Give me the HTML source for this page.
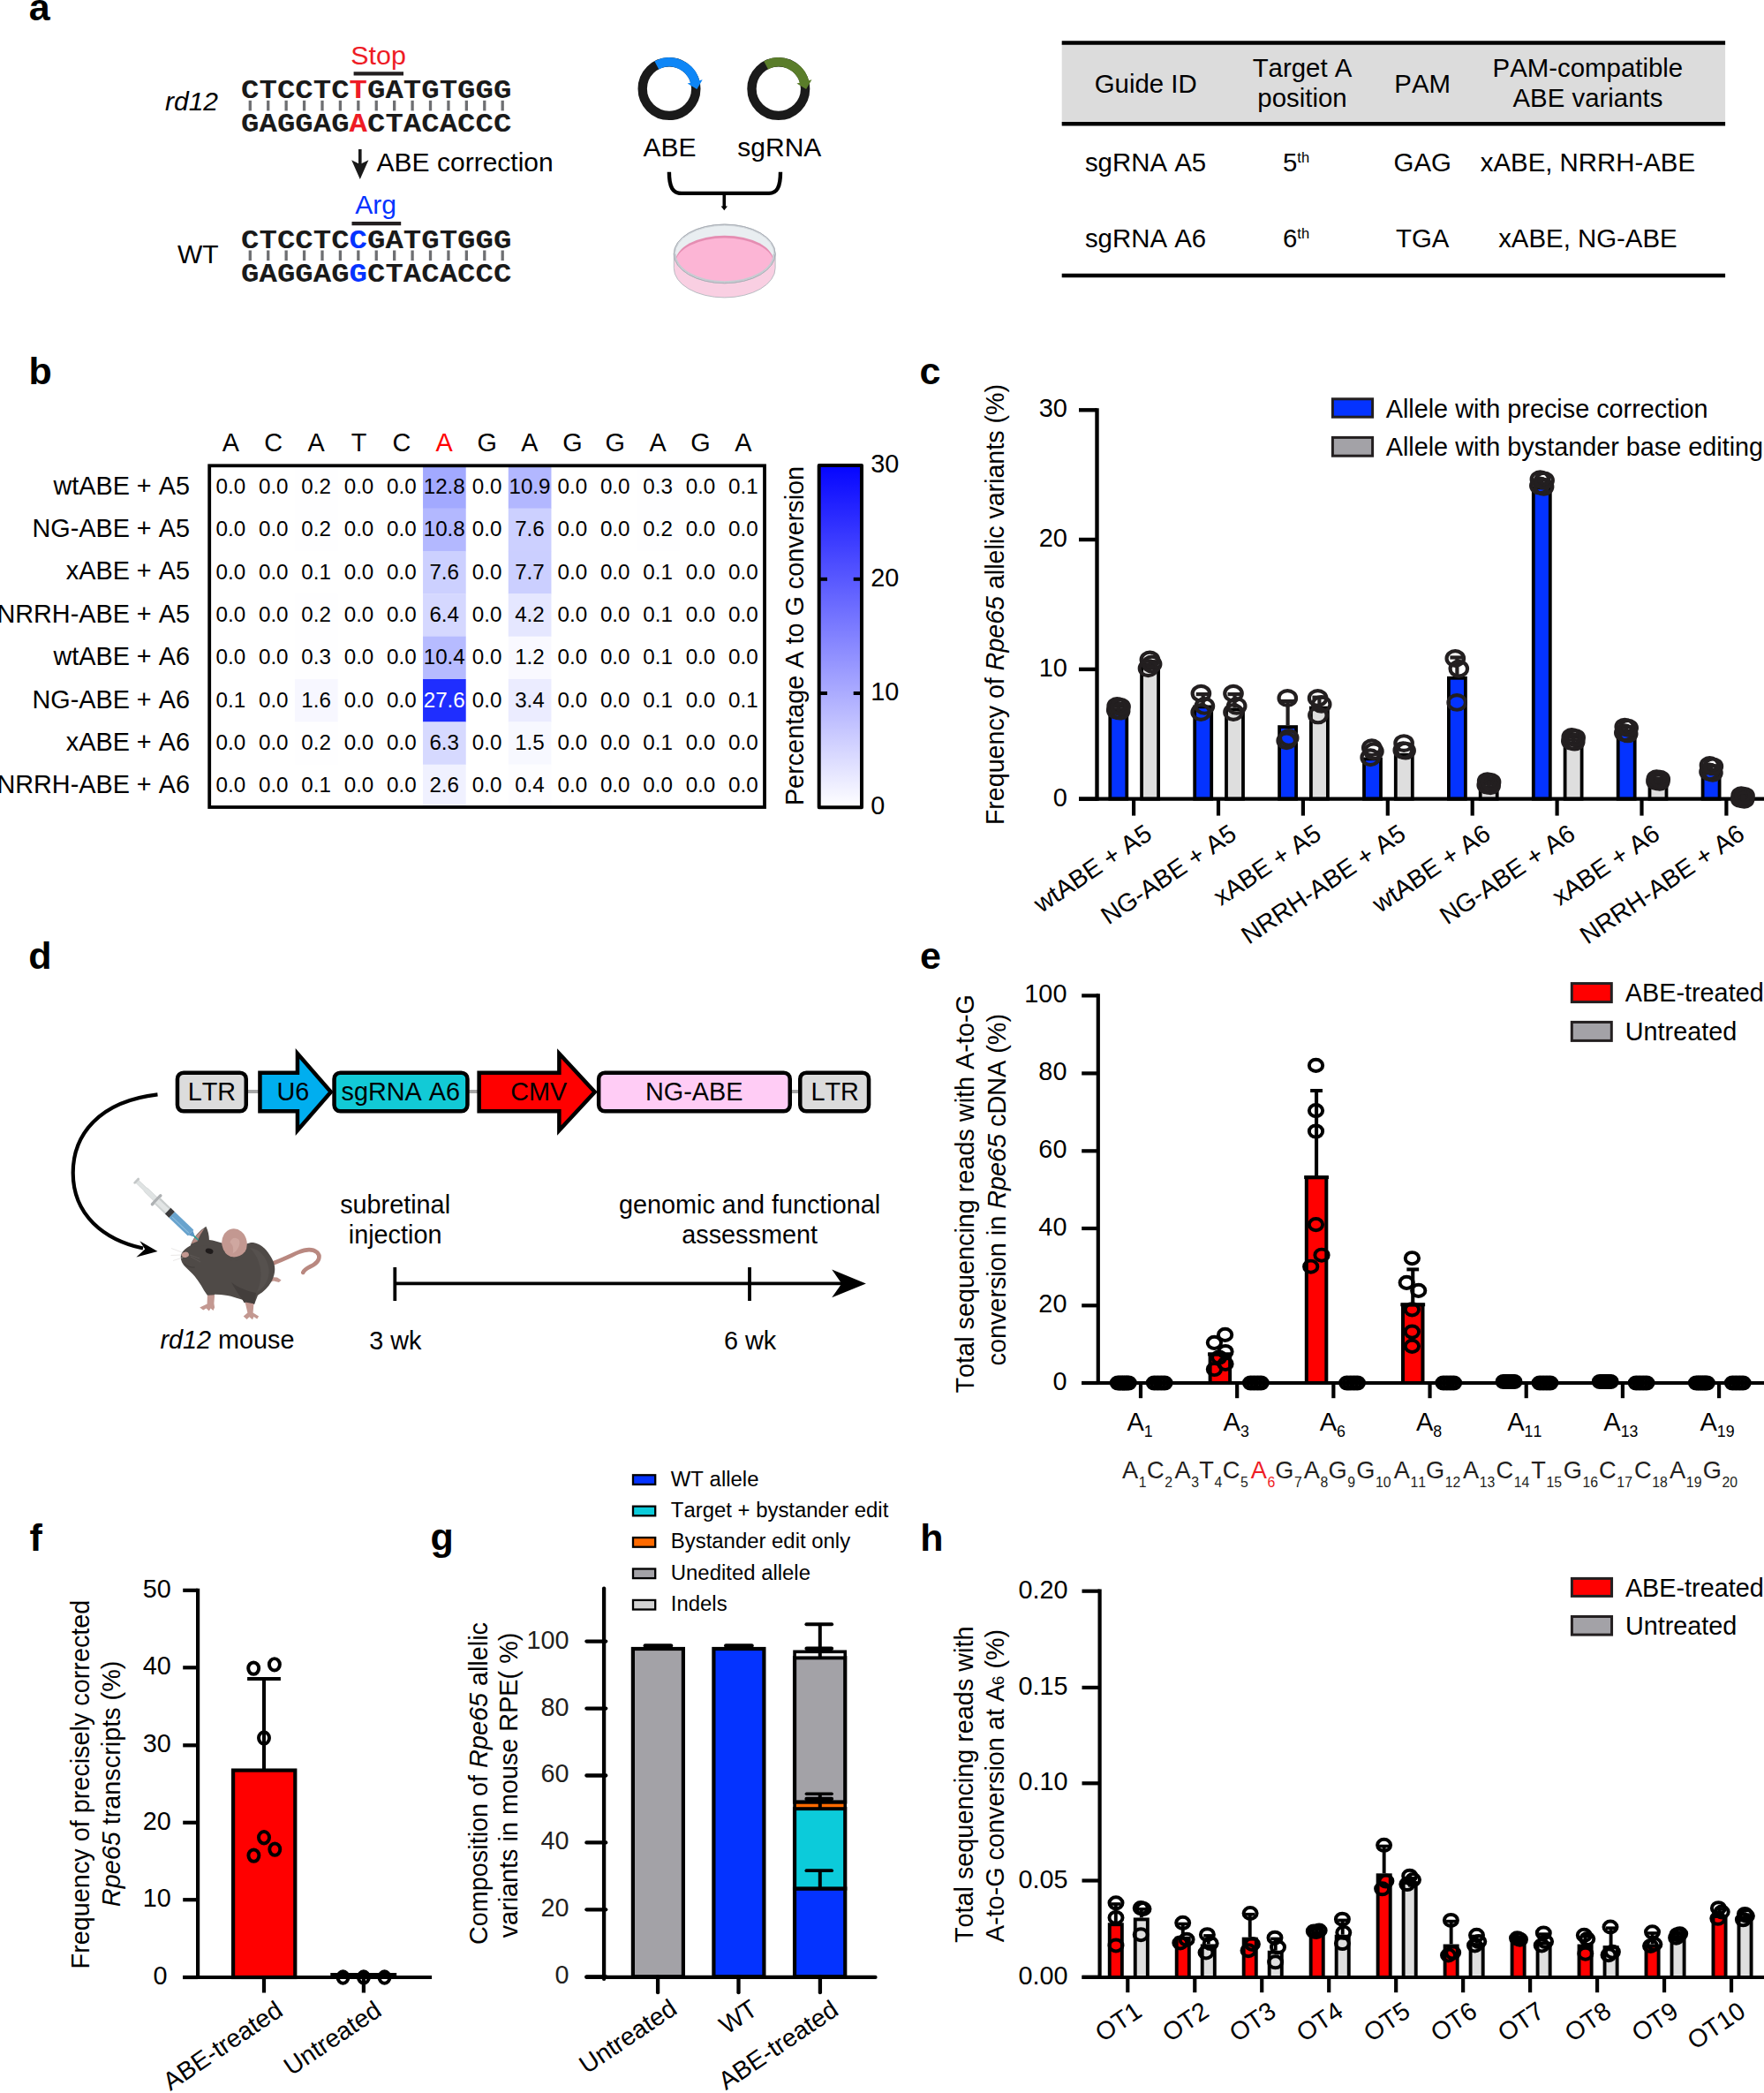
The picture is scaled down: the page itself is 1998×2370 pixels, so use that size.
<!DOCTYPE html>
<html><head><meta charset="utf-8"><title>Figure</title>
<style>html,body{margin:0;padding:0;background:#fff;overflow:hidden}svg{display:block}text{font-family:"Liberation Sans",sans-serif;font-kerning:none}text.mono{font-family:"Liberation Mono",monospace}</style>
</head><body>
<svg width="1998" height="2370" viewBox="0 0 1998 2370">
<text transform="translate(32.70,23.20)" font-size="43" font-weight="bold">a</text>
<text transform="translate(187.00,124.60)" font-size="30" font-style="italic">rd12</text>
<text transform="translate(201.00,297.50)" font-size="30">WT</text>
<line x1="283.31" y1="113.80" x2="283.31" y2="125.40" stroke="#6e6f72" stroke-width="3.3"/>
<line x1="303.73" y1="113.80" x2="303.73" y2="125.40" stroke="#6e6f72" stroke-width="3.3"/>
<line x1="324.15" y1="113.80" x2="324.15" y2="125.40" stroke="#6e6f72" stroke-width="3.3"/>
<line x1="344.57" y1="113.80" x2="344.57" y2="125.40" stroke="#6e6f72" stroke-width="3.3"/>
<line x1="364.99" y1="113.80" x2="364.99" y2="125.40" stroke="#6e6f72" stroke-width="3.3"/>
<line x1="385.41" y1="113.80" x2="385.41" y2="125.40" stroke="#6e6f72" stroke-width="3.3"/>
<line x1="405.83" y1="113.80" x2="405.83" y2="125.40" stroke="#6e6f72" stroke-width="3.3"/>
<line x1="426.25" y1="113.80" x2="426.25" y2="125.40" stroke="#6e6f72" stroke-width="3.3"/>
<line x1="446.67" y1="113.80" x2="446.67" y2="125.40" stroke="#6e6f72" stroke-width="3.3"/>
<line x1="467.09" y1="113.80" x2="467.09" y2="125.40" stroke="#6e6f72" stroke-width="3.3"/>
<line x1="487.51" y1="113.80" x2="487.51" y2="125.40" stroke="#6e6f72" stroke-width="3.3"/>
<line x1="507.93" y1="113.80" x2="507.93" y2="125.40" stroke="#6e6f72" stroke-width="3.3"/>
<line x1="528.35" y1="113.80" x2="528.35" y2="125.40" stroke="#6e6f72" stroke-width="3.3"/>
<line x1="548.77" y1="113.80" x2="548.77" y2="125.40" stroke="#6e6f72" stroke-width="3.3"/>
<line x1="569.19" y1="113.80" x2="569.19" y2="125.40" stroke="#6e6f72" stroke-width="3.3"/>
<text transform="translate(273.10,110.90) scale(1.0,0.88)" font-size="34.03" fill="#1a1a1a" font-weight="bold" class="mono">CTCCTC<tspan fill="#ee1c25">T</tspan>GATGTGGG</text>
<text transform="translate(273.10,148.80) scale(1.0,0.88)" font-size="34.03" fill="#1a1a1a" font-weight="bold" class="mono">GAGGAG<tspan fill="#ee1c25">A</tspan>CTACACCC</text>
<line x1="283.31" y1="283.50" x2="283.31" y2="295.10" stroke="#6e6f72" stroke-width="3.3"/>
<line x1="303.73" y1="283.50" x2="303.73" y2="295.10" stroke="#6e6f72" stroke-width="3.3"/>
<line x1="324.15" y1="283.50" x2="324.15" y2="295.10" stroke="#6e6f72" stroke-width="3.3"/>
<line x1="344.57" y1="283.50" x2="344.57" y2="295.10" stroke="#6e6f72" stroke-width="3.3"/>
<line x1="364.99" y1="283.50" x2="364.99" y2="295.10" stroke="#6e6f72" stroke-width="3.3"/>
<line x1="385.41" y1="283.50" x2="385.41" y2="295.10" stroke="#6e6f72" stroke-width="3.3"/>
<line x1="405.83" y1="283.50" x2="405.83" y2="295.10" stroke="#6e6f72" stroke-width="3.3"/>
<line x1="426.25" y1="283.50" x2="426.25" y2="295.10" stroke="#6e6f72" stroke-width="3.3"/>
<line x1="446.67" y1="283.50" x2="446.67" y2="295.10" stroke="#6e6f72" stroke-width="3.3"/>
<line x1="467.09" y1="283.50" x2="467.09" y2="295.10" stroke="#6e6f72" stroke-width="3.3"/>
<line x1="487.51" y1="283.50" x2="487.51" y2="295.10" stroke="#6e6f72" stroke-width="3.3"/>
<line x1="507.93" y1="283.50" x2="507.93" y2="295.10" stroke="#6e6f72" stroke-width="3.3"/>
<line x1="528.35" y1="283.50" x2="528.35" y2="295.10" stroke="#6e6f72" stroke-width="3.3"/>
<line x1="548.77" y1="283.50" x2="548.77" y2="295.10" stroke="#6e6f72" stroke-width="3.3"/>
<line x1="569.19" y1="283.50" x2="569.19" y2="295.10" stroke="#6e6f72" stroke-width="3.3"/>
<text transform="translate(273.10,280.60) scale(1.0,0.88)" font-size="34.03" fill="#1a1a1a" font-weight="bold" class="mono">CTCCTC<tspan fill="#0433ff">C</tspan>GATGTGGG</text>
<text transform="translate(273.10,318.50) scale(1.0,0.88)" font-size="34.03" fill="#1a1a1a" font-weight="bold" class="mono">GAGGAG<tspan fill="#0433ff">G</tspan>CTACACCC</text>
<text transform="translate(428.60,73.30)" font-size="30.4" text-anchor="middle" fill="#ee1c25">Stop</text>
<line x1="400.60" y1="83.30" x2="457.00" y2="83.30" stroke="#231f20" stroke-width="4.2"/>
<text transform="translate(425.50,242.40)" font-size="30" text-anchor="middle" fill="#0433ff">Arg</text>
<line x1="398.50" y1="253.20" x2="454.20" y2="253.20" stroke="#231f20" stroke-width="4.2"/>
<line x1="407.80" y1="169.00" x2="407.80" y2="190.00" stroke="#1a1a1a" stroke-width="3.6"/>
<path d="M398.2,181.3 L407.8,186 L417.4,181.3 L407.8,203 Z" fill="#1a1a1a"/>
<text transform="translate(426.60,194.20)" font-size="30">ABE correction</text>
<circle cx="758" cy="100.6" r="30.3" fill="none" stroke="#1a1a1a" stroke-width="10.4"/>
<path d="M743.78,73.85 A30.3,30.3 0 0 1 787.40,93.27" fill="none" stroke="#0e86f6" stroke-width="10.4"/>
<path d="M778.62,94.43 L795.70,90.17 L789.34,101.03 Z" fill="#0e86f6"/>
<circle cx="881.8" cy="100.6" r="30.3" fill="none" stroke="#1a1a1a" stroke-width="10.4"/>
<path d="M867.58,73.85 A30.3,30.3 0 0 1 911.20,93.27" fill="none" stroke="#5a7d2a" stroke-width="10.4"/>
<path d="M902.42,94.43 L919.50,90.17 L913.14,101.03 Z" fill="#5a7d2a"/>
<text transform="translate(758.60,177.40)" font-size="30" text-anchor="middle">ABE</text>
<text transform="translate(882.80,177.40)" font-size="30" text-anchor="middle">sgRNA</text>
<path d="M757.9,194.8 C757.9,212 762,218.9 772,218.9 L871,218.9 C880,218.9 884,212 884,194.8" fill="none" stroke="#000" stroke-width="4.4"/>
<line x1="820.30" y1="218.90" x2="820.30" y2="234.50" stroke="#000" stroke-width="3.6"/>
<path d="M816.6,233.5 L824,233.5 L820.3,238.3 Z" fill="#000"/>
<path d="M763.3000000000001,287.4 L763.3000000000001,303.6 A57.4,33.3 0 0 0 878.1,303.6 L878.1,287.4 Z" fill="#f9cfe2" stroke="#b9bcc2" stroke-width="1"/>
<ellipse cx="820.7" cy="287.4" rx="57.4" ry="33.3" fill="#e9eef1" stroke="#b3b8be" stroke-width="1"/>
<clipPath id="dishc"><ellipse cx="820.7" cy="287.4" rx="55.6" ry="31.6"/></clipPath>
<g clip-path="url(#dishc)"><ellipse cx="820.7" cy="296.3" rx="55.6" ry="29.6" fill="#e58db2"/><ellipse cx="820.7" cy="298.2" rx="55.6" ry="28.6" fill="#fcb5d5"/></g>
<path d="M765.1,287.4 A55.6,31.6 0 0 0 876.3000000000001,287.4" fill="none" stroke="#c9ccd3" stroke-width="1.6"/>
<ellipse cx="820.7" cy="287.4" rx="56.2" ry="32.2" fill="none" stroke="#c3c8ce" stroke-width="0.7"/>
<ellipse cx="820.7" cy="287.4" rx="57.4" ry="33.3" fill="none" stroke="#a9aeb5" stroke-width="0.9"/>
<rect x="1202.70" y="48.50" width="751.40" height="91.80" fill="#dcdcdc"/>
<line x1="1202.70" y1="48.50" x2="1954.10" y2="48.50" stroke="#000" stroke-width="4.6"/>
<line x1="1202.70" y1="140.30" x2="1954.10" y2="140.30" stroke="#000" stroke-width="4.6"/>
<line x1="1202.70" y1="312.00" x2="1954.10" y2="312.00" stroke="#000" stroke-width="4.6"/>
<text transform="translate(1297.70,105.20)" font-size="29.4" text-anchor="middle">Guide ID</text>
<text transform="translate(1475.00,87.10)" font-size="29.4" text-anchor="middle">Target A</text>
<text transform="translate(1475.00,121.40)" font-size="29.4" text-anchor="middle">position</text>
<text transform="translate(1611.20,105.20)" font-size="29.4" text-anchor="middle">PAM</text>
<text transform="translate(1798.40,87.10)" font-size="29.4" text-anchor="middle">PAM-compatible</text>
<text transform="translate(1798.40,121.40)" font-size="29.4" text-anchor="middle">ABE variants</text>
<text transform="translate(1297.50,193.80)" font-size="29.4" text-anchor="middle">sgRNA A5</text>
<text transform="translate(1453.00,193.80)" font-size="29.4">5<tspan font-size="16.5" dy="-9.4">th</tspan></text>
<text transform="translate(1611.20,193.80)" font-size="29.4" text-anchor="middle">GAG</text>
<text transform="translate(1798.40,193.80)" font-size="29.4" text-anchor="middle">xABE, NRRH-ABE</text>
<text transform="translate(1297.50,279.80)" font-size="29.4" text-anchor="middle">sgRNA A6</text>
<text transform="translate(1453.00,279.80)" font-size="29.4">6<tspan font-size="16.5" dy="-9.4">th</tspan></text>
<text transform="translate(1611.20,279.80)" font-size="29.4" text-anchor="middle">TGA</text>
<text transform="translate(1798.40,279.80)" font-size="29.4" text-anchor="middle">xABE, NG-ABE</text>
<text transform="translate(32.50,434.90)" font-size="43" font-weight="bold">b</text>
<text transform="translate(261.38,511.10)" font-size="28.8" text-anchor="middle">A</text>
<text transform="translate(309.75,511.10)" font-size="28.8" text-anchor="middle">C</text>
<text transform="translate(358.12,511.10)" font-size="28.8" text-anchor="middle">A</text>
<text transform="translate(406.50,511.10)" font-size="28.8" text-anchor="middle">T</text>
<text transform="translate(454.87,511.10)" font-size="28.8" text-anchor="middle">C</text>
<text transform="translate(503.23,511.10)" font-size="28.8" text-anchor="middle" fill="#f00">A</text>
<text transform="translate(551.61,511.10)" font-size="28.8" text-anchor="middle">G</text>
<text transform="translate(599.97,511.10)" font-size="28.8" text-anchor="middle">A</text>
<text transform="translate(648.35,511.10)" font-size="28.8" text-anchor="middle">G</text>
<text transform="translate(696.71,511.10)" font-size="28.8" text-anchor="middle">G</text>
<text transform="translate(745.09,511.10)" font-size="28.8" text-anchor="middle">A</text>
<text transform="translate(793.45,511.10)" font-size="28.8" text-anchor="middle">G</text>
<text transform="translate(841.83,511.10)" font-size="28.8" text-anchor="middle">A</text>
<text transform="translate(214.90,559.80)" font-size="28.8" text-anchor="end">wtABE + A5</text>
<rect x="333.94" y="527.30" width="48.67" height="48.64" fill="#fefeff"/>
<rect x="479.05" y="527.30" width="48.67" height="48.64" fill="#a2a9ff"/>
<rect x="575.79" y="527.30" width="48.67" height="48.64" fill="#b2b7ff"/>
<rect x="720.90" y="527.30" width="48.67" height="48.64" fill="#fefeff"/>
<rect x="817.64" y="527.30" width="48.67" height="48.64" fill="#ffffff"/>
<text transform="translate(214.90,608.14)" font-size="28.8" text-anchor="end">NG-ABE + A5</text>
<rect x="333.94" y="575.64" width="48.67" height="48.64" fill="#fefeff"/>
<rect x="479.05" y="575.64" width="48.67" height="48.64" fill="#b3b8ff"/>
<rect x="575.79" y="575.64" width="48.67" height="48.64" fill="#ccd0ff"/>
<rect x="720.90" y="575.64" width="48.67" height="48.64" fill="#fefeff"/>
<text transform="translate(214.90,656.48)" font-size="28.8" text-anchor="end">xABE + A5</text>
<rect x="333.94" y="623.98" width="48.67" height="48.64" fill="#ffffff"/>
<rect x="479.05" y="623.98" width="48.67" height="48.64" fill="#ccd0ff"/>
<rect x="575.79" y="623.98" width="48.67" height="48.64" fill="#cbcfff"/>
<rect x="720.90" y="623.98" width="48.67" height="48.64" fill="#ffffff"/>
<text transform="translate(214.90,704.82)" font-size="28.8" text-anchor="end">NRRH-ABE + A5</text>
<rect x="333.94" y="672.32" width="48.67" height="48.64" fill="#fefeff"/>
<rect x="479.05" y="672.32" width="48.67" height="48.64" fill="#d5d8ff"/>
<rect x="575.79" y="672.32" width="48.67" height="48.64" fill="#e5e7ff"/>
<rect x="720.90" y="672.32" width="48.67" height="48.64" fill="#ffffff"/>
<text transform="translate(214.90,753.16)" font-size="28.8" text-anchor="end">wtABE + A6</text>
<rect x="333.94" y="720.66" width="48.67" height="48.64" fill="#fefeff"/>
<rect x="479.05" y="720.66" width="48.67" height="48.64" fill="#b6bbff"/>
<rect x="575.79" y="720.66" width="48.67" height="48.64" fill="#f9f9ff"/>
<rect x="720.90" y="720.66" width="48.67" height="48.64" fill="#ffffff"/>
<text transform="translate(214.90,801.50)" font-size="28.8" text-anchor="end">NG-ABE + A6</text>
<rect x="237.20" y="769.00" width="48.67" height="48.64" fill="#ffffff"/>
<rect x="333.94" y="769.00" width="48.67" height="48.64" fill="#f7f7ff"/>
<rect x="479.05" y="769.00" width="48.67" height="48.64" fill="#1f2eff"/>
<rect x="575.79" y="769.00" width="48.67" height="48.64" fill="#ebecff"/>
<rect x="720.90" y="769.00" width="48.67" height="48.64" fill="#ffffff"/>
<rect x="817.64" y="769.00" width="48.67" height="48.64" fill="#ffffff"/>
<text transform="translate(214.90,849.84)" font-size="28.8" text-anchor="end">xABE + A6</text>
<rect x="333.94" y="817.34" width="48.67" height="48.64" fill="#fefeff"/>
<rect x="479.05" y="817.34" width="48.67" height="48.64" fill="#d6d9ff"/>
<rect x="575.79" y="817.34" width="48.67" height="48.64" fill="#f7f8ff"/>
<rect x="720.90" y="817.34" width="48.67" height="48.64" fill="#ffffff"/>
<text transform="translate(214.90,898.18)" font-size="28.8" text-anchor="end">NRRH-ABE + A6</text>
<rect x="333.94" y="865.68" width="48.67" height="48.64" fill="#ffffff"/>
<rect x="479.05" y="865.68" width="48.67" height="48.64" fill="#f0f1ff"/>
<rect x="575.79" y="865.68" width="48.67" height="48.64" fill="#fdfdff"/>
<text transform="translate(261.38,558.90)" font-size="24.2" text-anchor="middle">0.0</text>
<text transform="translate(309.75,558.90)" font-size="24.2" text-anchor="middle">0.0</text>
<text transform="translate(358.12,558.90)" font-size="24.2" text-anchor="middle">0.2</text>
<text transform="translate(406.50,558.90)" font-size="24.2" text-anchor="middle">0.0</text>
<text transform="translate(454.87,558.90)" font-size="24.2" text-anchor="middle">0.0</text>
<text transform="translate(503.23,558.90)" font-size="24.2" text-anchor="middle">12.8</text>
<text transform="translate(551.61,558.90)" font-size="24.2" text-anchor="middle">0.0</text>
<text transform="translate(599.97,558.90)" font-size="24.2" text-anchor="middle">10.9</text>
<text transform="translate(648.35,558.90)" font-size="24.2" text-anchor="middle">0.0</text>
<text transform="translate(696.71,558.90)" font-size="24.2" text-anchor="middle">0.0</text>
<text transform="translate(745.09,558.90)" font-size="24.2" text-anchor="middle">0.3</text>
<text transform="translate(793.45,558.90)" font-size="24.2" text-anchor="middle">0.0</text>
<text transform="translate(841.83,558.90)" font-size="24.2" text-anchor="middle">0.1</text>
<text transform="translate(261.38,607.24)" font-size="24.2" text-anchor="middle">0.0</text>
<text transform="translate(309.75,607.24)" font-size="24.2" text-anchor="middle">0.0</text>
<text transform="translate(358.12,607.24)" font-size="24.2" text-anchor="middle">0.2</text>
<text transform="translate(406.50,607.24)" font-size="24.2" text-anchor="middle">0.0</text>
<text transform="translate(454.87,607.24)" font-size="24.2" text-anchor="middle">0.0</text>
<text transform="translate(503.23,607.24)" font-size="24.2" text-anchor="middle">10.8</text>
<text transform="translate(551.61,607.24)" font-size="24.2" text-anchor="middle">0.0</text>
<text transform="translate(599.97,607.24)" font-size="24.2" text-anchor="middle">7.6</text>
<text transform="translate(648.35,607.24)" font-size="24.2" text-anchor="middle">0.0</text>
<text transform="translate(696.71,607.24)" font-size="24.2" text-anchor="middle">0.0</text>
<text transform="translate(745.09,607.24)" font-size="24.2" text-anchor="middle">0.2</text>
<text transform="translate(793.45,607.24)" font-size="24.2" text-anchor="middle">0.0</text>
<text transform="translate(841.83,607.24)" font-size="24.2" text-anchor="middle">0.0</text>
<text transform="translate(261.38,655.58)" font-size="24.2" text-anchor="middle">0.0</text>
<text transform="translate(309.75,655.58)" font-size="24.2" text-anchor="middle">0.0</text>
<text transform="translate(358.12,655.58)" font-size="24.2" text-anchor="middle">0.1</text>
<text transform="translate(406.50,655.58)" font-size="24.2" text-anchor="middle">0.0</text>
<text transform="translate(454.87,655.58)" font-size="24.2" text-anchor="middle">0.0</text>
<text transform="translate(503.23,655.58)" font-size="24.2" text-anchor="middle">7.6</text>
<text transform="translate(551.61,655.58)" font-size="24.2" text-anchor="middle">0.0</text>
<text transform="translate(599.97,655.58)" font-size="24.2" text-anchor="middle">7.7</text>
<text transform="translate(648.35,655.58)" font-size="24.2" text-anchor="middle">0.0</text>
<text transform="translate(696.71,655.58)" font-size="24.2" text-anchor="middle">0.0</text>
<text transform="translate(745.09,655.58)" font-size="24.2" text-anchor="middle">0.1</text>
<text transform="translate(793.45,655.58)" font-size="24.2" text-anchor="middle">0.0</text>
<text transform="translate(841.83,655.58)" font-size="24.2" text-anchor="middle">0.0</text>
<text transform="translate(261.38,703.92)" font-size="24.2" text-anchor="middle">0.0</text>
<text transform="translate(309.75,703.92)" font-size="24.2" text-anchor="middle">0.0</text>
<text transform="translate(358.12,703.92)" font-size="24.2" text-anchor="middle">0.2</text>
<text transform="translate(406.50,703.92)" font-size="24.2" text-anchor="middle">0.0</text>
<text transform="translate(454.87,703.92)" font-size="24.2" text-anchor="middle">0.0</text>
<text transform="translate(503.23,703.92)" font-size="24.2" text-anchor="middle">6.4</text>
<text transform="translate(551.61,703.92)" font-size="24.2" text-anchor="middle">0.0</text>
<text transform="translate(599.97,703.92)" font-size="24.2" text-anchor="middle">4.2</text>
<text transform="translate(648.35,703.92)" font-size="24.2" text-anchor="middle">0.0</text>
<text transform="translate(696.71,703.92)" font-size="24.2" text-anchor="middle">0.0</text>
<text transform="translate(745.09,703.92)" font-size="24.2" text-anchor="middle">0.1</text>
<text transform="translate(793.45,703.92)" font-size="24.2" text-anchor="middle">0.0</text>
<text transform="translate(841.83,703.92)" font-size="24.2" text-anchor="middle">0.0</text>
<text transform="translate(261.38,752.26)" font-size="24.2" text-anchor="middle">0.0</text>
<text transform="translate(309.75,752.26)" font-size="24.2" text-anchor="middle">0.0</text>
<text transform="translate(358.12,752.26)" font-size="24.2" text-anchor="middle">0.3</text>
<text transform="translate(406.50,752.26)" font-size="24.2" text-anchor="middle">0.0</text>
<text transform="translate(454.87,752.26)" font-size="24.2" text-anchor="middle">0.0</text>
<text transform="translate(503.23,752.26)" font-size="24.2" text-anchor="middle">10.4</text>
<text transform="translate(551.61,752.26)" font-size="24.2" text-anchor="middle">0.0</text>
<text transform="translate(599.97,752.26)" font-size="24.2" text-anchor="middle">1.2</text>
<text transform="translate(648.35,752.26)" font-size="24.2" text-anchor="middle">0.0</text>
<text transform="translate(696.71,752.26)" font-size="24.2" text-anchor="middle">0.0</text>
<text transform="translate(745.09,752.26)" font-size="24.2" text-anchor="middle">0.1</text>
<text transform="translate(793.45,752.26)" font-size="24.2" text-anchor="middle">0.0</text>
<text transform="translate(841.83,752.26)" font-size="24.2" text-anchor="middle">0.0</text>
<text transform="translate(261.38,800.60)" font-size="24.2" text-anchor="middle">0.1</text>
<text transform="translate(309.75,800.60)" font-size="24.2" text-anchor="middle">0.0</text>
<text transform="translate(358.12,800.60)" font-size="24.2" text-anchor="middle">1.6</text>
<text transform="translate(406.50,800.60)" font-size="24.2" text-anchor="middle">0.0</text>
<text transform="translate(454.87,800.60)" font-size="24.2" text-anchor="middle">0.0</text>
<text transform="translate(503.23,800.60)" font-size="24.2" text-anchor="middle" fill="#fff">27.6</text>
<text transform="translate(551.61,800.60)" font-size="24.2" text-anchor="middle">0.0</text>
<text transform="translate(599.97,800.60)" font-size="24.2" text-anchor="middle">3.4</text>
<text transform="translate(648.35,800.60)" font-size="24.2" text-anchor="middle">0.0</text>
<text transform="translate(696.71,800.60)" font-size="24.2" text-anchor="middle">0.0</text>
<text transform="translate(745.09,800.60)" font-size="24.2" text-anchor="middle">0.1</text>
<text transform="translate(793.45,800.60)" font-size="24.2" text-anchor="middle">0.0</text>
<text transform="translate(841.83,800.60)" font-size="24.2" text-anchor="middle">0.1</text>
<text transform="translate(261.38,848.94)" font-size="24.2" text-anchor="middle">0.0</text>
<text transform="translate(309.75,848.94)" font-size="24.2" text-anchor="middle">0.0</text>
<text transform="translate(358.12,848.94)" font-size="24.2" text-anchor="middle">0.2</text>
<text transform="translate(406.50,848.94)" font-size="24.2" text-anchor="middle">0.0</text>
<text transform="translate(454.87,848.94)" font-size="24.2" text-anchor="middle">0.0</text>
<text transform="translate(503.23,848.94)" font-size="24.2" text-anchor="middle">6.3</text>
<text transform="translate(551.61,848.94)" font-size="24.2" text-anchor="middle">0.0</text>
<text transform="translate(599.97,848.94)" font-size="24.2" text-anchor="middle">1.5</text>
<text transform="translate(648.35,848.94)" font-size="24.2" text-anchor="middle">0.0</text>
<text transform="translate(696.71,848.94)" font-size="24.2" text-anchor="middle">0.0</text>
<text transform="translate(745.09,848.94)" font-size="24.2" text-anchor="middle">0.1</text>
<text transform="translate(793.45,848.94)" font-size="24.2" text-anchor="middle">0.0</text>
<text transform="translate(841.83,848.94)" font-size="24.2" text-anchor="middle">0.0</text>
<text transform="translate(261.38,897.28)" font-size="24.2" text-anchor="middle">0.0</text>
<text transform="translate(309.75,897.28)" font-size="24.2" text-anchor="middle">0.0</text>
<text transform="translate(358.12,897.28)" font-size="24.2" text-anchor="middle">0.1</text>
<text transform="translate(406.50,897.28)" font-size="24.2" text-anchor="middle">0.0</text>
<text transform="translate(454.87,897.28)" font-size="24.2" text-anchor="middle">0.0</text>
<text transform="translate(503.23,897.28)" font-size="24.2" text-anchor="middle">2.6</text>
<text transform="translate(551.61,897.28)" font-size="24.2" text-anchor="middle">0.0</text>
<text transform="translate(599.97,897.28)" font-size="24.2" text-anchor="middle">0.4</text>
<text transform="translate(648.35,897.28)" font-size="24.2" text-anchor="middle">0.0</text>
<text transform="translate(696.71,897.28)" font-size="24.2" text-anchor="middle">0.0</text>
<text transform="translate(745.09,897.28)" font-size="24.2" text-anchor="middle">0.0</text>
<text transform="translate(793.45,897.28)" font-size="24.2" text-anchor="middle">0.0</text>
<text transform="translate(841.83,897.28)" font-size="24.2" text-anchor="middle">0.0</text>
<rect x="237.20" y="527.30" width="628.81" height="386.70" fill="none" stroke="#000" stroke-width="3.8"/>
<linearGradient id="cb" x1="0" y1="0" x2="0" y2="1"><stop offset="0" stop-color="#0505ff"/><stop offset="1" stop-color="#fff"/></linearGradient>
<rect x="927.7" y="527" width="48.3" height="387.3" fill="url(#cb)" stroke="#000" stroke-width="4" stroke-linejoin="round"/>
<line x1="927.70" y1="655.80" x2="937.00" y2="655.80" stroke="#000" stroke-width="4"/>
<line x1="966.70" y1="655.80" x2="976.00" y2="655.80" stroke="#000" stroke-width="4"/>
<line x1="927.70" y1="785.00" x2="937.00" y2="785.00" stroke="#000" stroke-width="4"/>
<line x1="966.70" y1="785.00" x2="976.00" y2="785.00" stroke="#000" stroke-width="4"/>
<text transform="translate(986.30,534.80)" font-size="28.8">30</text>
<text transform="translate(986.30,663.60)" font-size="28.8">20</text>
<text transform="translate(986.30,792.80)" font-size="28.8">10</text>
<text transform="translate(986.30,922.10)" font-size="28.8">0</text>
<text transform="translate(909.90,720.00) rotate(-90)" font-size="28.8" text-anchor="middle">Percentage A to G conversion</text>
<text transform="translate(1041.40,434.90)" font-size="43" font-weight="bold">c</text>
<rect x="1257.30" y="805.70" width="19.00" height="99.00" fill="#0433ff" stroke="#000" stroke-width="3.8"/>
<rect x="1293.10" y="756.10" width="19.00" height="148.60" fill="#dedede" stroke="#000" stroke-width="3.8"/>
<line x1="1362.70" y1="786.10" x2="1362.70" y2="798.50" stroke="#231f20" stroke-width="4.2"/>
<line x1="1354.70" y1="786.10" x2="1370.70" y2="786.10" stroke="#231f20" stroke-width="4.2"/>
<rect x="1353.20" y="800.40" width="19.00" height="104.30" fill="#0433ff" stroke="#000" stroke-width="3.8"/>
<line x1="1398.50" y1="786.10" x2="1398.50" y2="801.50" stroke="#231f20" stroke-width="4.2"/>
<line x1="1390.50" y1="786.10" x2="1406.50" y2="786.10" stroke="#231f20" stroke-width="4.2"/>
<rect x="1389.00" y="803.40" width="19.00" height="101.30" fill="#dedede" stroke="#000" stroke-width="3.8"/>
<line x1="1458.60" y1="794.00" x2="1458.60" y2="821.20" stroke="#231f20" stroke-width="4.2"/>
<line x1="1450.60" y1="794.00" x2="1466.60" y2="794.00" stroke="#231f20" stroke-width="4.2"/>
<rect x="1449.10" y="823.10" width="19.00" height="81.60" fill="#0433ff" stroke="#000" stroke-width="3.8"/>
<line x1="1494.40" y1="789.70" x2="1494.40" y2="799.70" stroke="#231f20" stroke-width="4.2"/>
<line x1="1486.40" y1="789.70" x2="1502.40" y2="789.70" stroke="#231f20" stroke-width="4.2"/>
<rect x="1484.90" y="801.60" width="19.00" height="103.10" fill="#dedede" stroke="#000" stroke-width="3.8"/>
<rect x="1545.00" y="859.40" width="19.00" height="45.30" fill="#0433ff" stroke="#000" stroke-width="3.8"/>
<rect x="1580.80" y="854.70" width="19.00" height="50.00" fill="#dedede" stroke="#000" stroke-width="3.8"/>
<line x1="1650.40" y1="744.50" x2="1650.40" y2="765.90" stroke="#231f20" stroke-width="4.2"/>
<line x1="1642.40" y1="744.50" x2="1658.40" y2="744.50" stroke="#231f20" stroke-width="4.2"/>
<rect x="1640.90" y="767.80" width="19.00" height="136.90" fill="#0433ff" stroke="#000" stroke-width="3.8"/>
<rect x="1676.70" y="892.40" width="19.00" height="12.30" fill="#dedede" stroke="#000" stroke-width="3.8"/>
<rect x="1736.80" y="552.30" width="19.00" height="352.40" fill="#0433ff" stroke="#000" stroke-width="3.8"/>
<rect x="1772.60" y="841.90" width="19.00" height="62.80" fill="#dedede" stroke="#000" stroke-width="3.8"/>
<rect x="1832.70" y="830.10" width="19.00" height="74.60" fill="#0433ff" stroke="#000" stroke-width="3.8"/>
<rect x="1868.50" y="887.90" width="19.00" height="16.80" fill="#dedede" stroke="#000" stroke-width="3.8"/>
<rect x="1928.60" y="872.90" width="19.00" height="31.80" fill="#0433ff" stroke="#000" stroke-width="3.8"/>
<line x1="1242.50" y1="462.30" x2="1242.50" y2="906.80" stroke="#000" stroke-width="4.4"/>
<line x1="1222.00" y1="904.70" x2="1998.00" y2="904.70" stroke="#000" stroke-width="4.2"/>
<line x1="1222.00" y1="464.30" x2="1242.50" y2="464.30" stroke="#000" stroke-width="4.4"/>
<text transform="translate(1208.90,472.30)" font-size="29" text-anchor="end">30</text>
<line x1="1222.00" y1="611.00" x2="1242.50" y2="611.00" stroke="#000" stroke-width="4.4"/>
<text transform="translate(1208.90,619.00)" font-size="29" text-anchor="end">20</text>
<line x1="1222.00" y1="757.90" x2="1242.50" y2="757.90" stroke="#000" stroke-width="4.4"/>
<text transform="translate(1208.90,765.90)" font-size="29" text-anchor="end">10</text>
<line x1="1222.00" y1="904.70" x2="1242.50" y2="904.70" stroke="#000" stroke-width="4.4"/>
<text transform="translate(1208.90,912.70)" font-size="29" text-anchor="end">0</text>
<line x1="1284.10" y1="904.70" x2="1284.10" y2="923.60" stroke="#000" stroke-width="4.2"/>
<line x1="1380.00" y1="904.70" x2="1380.00" y2="923.60" stroke="#000" stroke-width="4.2"/>
<line x1="1475.90" y1="904.70" x2="1475.90" y2="923.60" stroke="#000" stroke-width="4.2"/>
<line x1="1571.80" y1="904.70" x2="1571.80" y2="923.60" stroke="#000" stroke-width="4.2"/>
<line x1="1667.70" y1="904.70" x2="1667.70" y2="923.60" stroke="#000" stroke-width="4.2"/>
<line x1="1763.60" y1="904.70" x2="1763.60" y2="923.60" stroke="#000" stroke-width="4.2"/>
<line x1="1859.50" y1="904.70" x2="1859.50" y2="923.60" stroke="#000" stroke-width="4.2"/>
<line x1="1955.40" y1="904.70" x2="1955.40" y2="923.60" stroke="#000" stroke-width="4.2"/>
<line x1="1259.40" y1="799.53" x2="1274.40" y2="799.53" stroke="#231f20" stroke-width="3.6"/>
<line x1="1259.40" y1="802.90" x2="1274.40" y2="802.90" stroke="#231f20" stroke-width="3.6"/>
<line x1="1259.40" y1="806.27" x2="1274.40" y2="806.27" stroke="#231f20" stroke-width="3.6"/>
<line x1="1266.90" y1="797.45" x2="1266.90" y2="808.15" stroke="#231f20" stroke-width="4.2"/>
<line x1="1295.00" y1="748.88" x2="1310.00" y2="748.88" stroke="#231f20" stroke-width="3.6"/>
<line x1="1295.00" y1="752.60" x2="1310.00" y2="752.60" stroke="#231f20" stroke-width="3.6"/>
<line x1="1295.00" y1="756.33" x2="1310.00" y2="756.33" stroke="#231f20" stroke-width="3.6"/>
<line x1="1302.50" y1="746.50" x2="1302.50" y2="758.50" stroke="#231f20" stroke-width="4.2"/>
<line x1="1678.90" y1="884.57" x2="1693.90" y2="884.57" stroke="#231f20" stroke-width="3.6"/>
<line x1="1678.90" y1="887.80" x2="1693.90" y2="887.80" stroke="#231f20" stroke-width="3.6"/>
<line x1="1678.90" y1="891.03" x2="1693.90" y2="891.03" stroke="#231f20" stroke-width="3.6"/>
<line x1="1686.40" y1="882.60" x2="1686.40" y2="892.80" stroke="#231f20" stroke-width="4.2"/>
<line x1="1739.00" y1="543.43" x2="1754.00" y2="543.43" stroke="#231f20" stroke-width="3.6"/>
<line x1="1739.00" y1="547.60" x2="1754.00" y2="547.60" stroke="#231f20" stroke-width="3.6"/>
<line x1="1739.00" y1="551.76" x2="1754.00" y2="551.76" stroke="#231f20" stroke-width="3.6"/>
<line x1="1746.50" y1="540.70" x2="1746.50" y2="554.30" stroke="#231f20" stroke-width="4.2"/>
<line x1="1774.50" y1="834.56" x2="1789.50" y2="834.56" stroke="#231f20" stroke-width="3.6"/>
<line x1="1774.50" y1="837.90" x2="1789.50" y2="837.90" stroke="#231f20" stroke-width="3.6"/>
<line x1="1774.50" y1="841.24" x2="1789.50" y2="841.24" stroke="#231f20" stroke-width="3.6"/>
<line x1="1782.00" y1="832.50" x2="1782.00" y2="843.10" stroke="#231f20" stroke-width="4.2"/>
<line x1="1834.50" y1="823.65" x2="1849.50" y2="823.65" stroke="#231f20" stroke-width="3.6"/>
<line x1="1834.50" y1="827.60" x2="1849.50" y2="827.60" stroke="#231f20" stroke-width="3.6"/>
<line x1="1834.50" y1="831.54" x2="1849.50" y2="831.54" stroke="#231f20" stroke-width="3.6"/>
<line x1="1842.00" y1="821.10" x2="1842.00" y2="833.90" stroke="#231f20" stroke-width="4.2"/>
<line x1="1870.60" y1="881.31" x2="1885.60" y2="881.31" stroke="#231f20" stroke-width="3.6"/>
<line x1="1870.60" y1="884.10" x2="1885.60" y2="884.10" stroke="#231f20" stroke-width="3.6"/>
<line x1="1870.60" y1="886.89" x2="1885.60" y2="886.89" stroke="#231f20" stroke-width="3.6"/>
<line x1="1878.10" y1="879.70" x2="1878.10" y2="888.30" stroke="#231f20" stroke-width="4.2"/>
<line x1="1930.70" y1="867.31" x2="1945.70" y2="867.31" stroke="#231f20" stroke-width="3.6"/>
<line x1="1930.70" y1="871.50" x2="1945.70" y2="871.50" stroke="#231f20" stroke-width="3.6"/>
<line x1="1930.70" y1="875.69" x2="1945.70" y2="875.69" stroke="#231f20" stroke-width="3.6"/>
<line x1="1938.20" y1="864.55" x2="1938.20" y2="878.25" stroke="#231f20" stroke-width="4.2"/>
<line x1="1966.40" y1="900.51" x2="1981.40" y2="900.51" stroke="#231f20" stroke-width="3.6"/>
<line x1="1966.40" y1="903.60" x2="1981.40" y2="903.60" stroke="#231f20" stroke-width="3.6"/>
<line x1="1966.40" y1="906.69" x2="1981.40" y2="906.69" stroke="#231f20" stroke-width="3.6"/>
<line x1="1973.90" y1="898.65" x2="1973.90" y2="908.35" stroke="#231f20" stroke-width="4.2"/>
<ellipse cx="1264.75" cy="804.29" rx="9.75" ry="8.35" fill="none" stroke="#231f20" stroke-width="4.2"/>
<ellipse cx="1268.62" cy="805.15" rx="9.75" ry="8.35" fill="none" stroke="#231f20" stroke-width="4.2"/>
<ellipse cx="1265.18" cy="799.45" rx="9.75" ry="8.35" fill="none" stroke="#231f20" stroke-width="4.2"/>
<ellipse cx="1269.05" cy="800.30" rx="9.75" ry="8.35" fill="none" stroke="#231f20" stroke-width="4.2"/>
<ellipse cx="1302.40" cy="747.00" rx="9.75" ry="8.35" fill="none" stroke="#231f20" stroke-width="4.2"/>
<ellipse cx="1304.60" cy="752.00" rx="9.75" ry="8.35" fill="none" stroke="#231f20" stroke-width="4.2"/>
<ellipse cx="1300.50" cy="756.80" rx="9.75" ry="8.35" fill="none" stroke="#231f20" stroke-width="4.2"/>
<ellipse cx="1360.40" cy="785.20" rx="9.75" ry="8.35" fill="none" stroke="#231f20" stroke-width="4.2"/>
<ellipse cx="1364.40" cy="799.40" rx="9.75" ry="8.35" fill="none" stroke="#231f20" stroke-width="4.2"/>
<ellipse cx="1360.20" cy="806.50" rx="9.75" ry="8.35" fill="none" stroke="#231f20" stroke-width="4.2"/>
<ellipse cx="1397.00" cy="785.20" rx="9.75" ry="8.35" fill="none" stroke="#231f20" stroke-width="4.2"/>
<ellipse cx="1400.70" cy="799.40" rx="9.75" ry="8.35" fill="none" stroke="#231f20" stroke-width="4.2"/>
<ellipse cx="1397.00" cy="806.50" rx="9.75" ry="8.35" fill="none" stroke="#231f20" stroke-width="4.2"/>
<ellipse cx="1458.30" cy="790.40" rx="9.75" ry="8.35" fill="none" stroke="#231f20" stroke-width="4.2"/>
<ellipse cx="1459.70" cy="835.40" rx="9.75" ry="8.35" fill="none" stroke="#231f20" stroke-width="4.2"/>
<ellipse cx="1457.20" cy="838.80" rx="9.75" ry="8.35" fill="none" stroke="#231f20" stroke-width="4.2"/>
<ellipse cx="1492.60" cy="790.40" rx="9.75" ry="8.35" fill="none" stroke="#231f20" stroke-width="4.2"/>
<ellipse cx="1496.70" cy="797.40" rx="9.75" ry="8.35" fill="none" stroke="#231f20" stroke-width="4.2"/>
<ellipse cx="1492.90" cy="809.90" rx="9.75" ry="8.35" fill="none" stroke="#231f20" stroke-width="4.2"/>
<ellipse cx="1553.80" cy="846.70" rx="9.75" ry="8.35" fill="none" stroke="#231f20" stroke-width="4.2"/>
<ellipse cx="1555.90" cy="850.70" rx="9.75" ry="8.35" fill="none" stroke="#231f20" stroke-width="4.2"/>
<ellipse cx="1552.20" cy="857.70" rx="9.75" ry="8.35" fill="none" stroke="#231f20" stroke-width="4.2"/>
<ellipse cx="1590.10" cy="841.60" rx="9.75" ry="8.35" fill="none" stroke="#231f20" stroke-width="4.2"/>
<ellipse cx="1589.30" cy="849.60" rx="9.75" ry="8.35" fill="none" stroke="#231f20" stroke-width="4.2"/>
<ellipse cx="1592.10" cy="850.10" rx="9.75" ry="8.35" fill="none" stroke="#231f20" stroke-width="4.2"/>
<ellipse cx="1648.30" cy="745.50" rx="9.75" ry="8.35" fill="none" stroke="#231f20" stroke-width="4.2"/>
<ellipse cx="1652.30" cy="757.20" rx="9.75" ry="8.35" fill="none" stroke="#231f20" stroke-width="4.2"/>
<ellipse cx="1650.20" cy="795.40" rx="9.75" ry="8.35" fill="none" stroke="#231f20" stroke-width="4.2"/>
<ellipse cx="1684.25" cy="889.02" rx="9.75" ry="8.35" fill="none" stroke="#231f20" stroke-width="4.2"/>
<ellipse cx="1688.12" cy="889.80" rx="9.75" ry="8.35" fill="none" stroke="#231f20" stroke-width="4.2"/>
<ellipse cx="1684.68" cy="884.60" rx="9.75" ry="8.35" fill="none" stroke="#231f20" stroke-width="4.2"/>
<ellipse cx="1688.55" cy="885.38" rx="9.75" ry="8.35" fill="none" stroke="#231f20" stroke-width="4.2"/>
<ellipse cx="1743.90" cy="550.01" rx="9.75" ry="8.35" fill="none" stroke="#231f20" stroke-width="4.2"/>
<ellipse cx="1748.58" cy="551.30" rx="9.75" ry="8.35" fill="none" stroke="#231f20" stroke-width="4.2"/>
<ellipse cx="1744.42" cy="542.70" rx="9.75" ry="8.35" fill="none" stroke="#231f20" stroke-width="4.2"/>
<ellipse cx="1749.10" cy="543.99" rx="9.75" ry="8.35" fill="none" stroke="#231f20" stroke-width="4.2"/>
<ellipse cx="1779.85" cy="839.26" rx="9.75" ry="8.35" fill="none" stroke="#231f20" stroke-width="4.2"/>
<ellipse cx="1783.72" cy="840.10" rx="9.75" ry="8.35" fill="none" stroke="#231f20" stroke-width="4.2"/>
<ellipse cx="1780.28" cy="834.50" rx="9.75" ry="8.35" fill="none" stroke="#231f20" stroke-width="4.2"/>
<ellipse cx="1784.15" cy="835.34" rx="9.75" ry="8.35" fill="none" stroke="#231f20" stroke-width="4.2"/>
<ellipse cx="1839.85" cy="829.73" rx="9.75" ry="8.35" fill="none" stroke="#231f20" stroke-width="4.2"/>
<ellipse cx="1843.72" cy="830.90" rx="9.75" ry="8.35" fill="none" stroke="#231f20" stroke-width="4.2"/>
<ellipse cx="1840.28" cy="823.10" rx="9.75" ry="8.35" fill="none" stroke="#231f20" stroke-width="4.2"/>
<ellipse cx="1844.15" cy="824.27" rx="9.75" ry="8.35" fill="none" stroke="#231f20" stroke-width="4.2"/>
<ellipse cx="1875.95" cy="884.76" rx="9.75" ry="8.35" fill="none" stroke="#231f20" stroke-width="4.2"/>
<ellipse cx="1879.82" cy="885.30" rx="9.75" ry="8.35" fill="none" stroke="#231f20" stroke-width="4.2"/>
<ellipse cx="1876.38" cy="881.70" rx="9.75" ry="8.35" fill="none" stroke="#231f20" stroke-width="4.2"/>
<ellipse cx="1880.25" cy="882.24" rx="9.75" ry="8.35" fill="none" stroke="#231f20" stroke-width="4.2"/>
<ellipse cx="1936.05" cy="873.94" rx="9.75" ry="8.35" fill="none" stroke="#231f20" stroke-width="4.2"/>
<ellipse cx="1939.92" cy="875.25" rx="9.75" ry="8.35" fill="none" stroke="#231f20" stroke-width="4.2"/>
<ellipse cx="1936.48" cy="866.55" rx="9.75" ry="8.35" fill="none" stroke="#231f20" stroke-width="4.2"/>
<ellipse cx="1940.35" cy="867.86" rx="9.75" ry="8.35" fill="none" stroke="#231f20" stroke-width="4.2"/>
<ellipse cx="1971.75" cy="904.64" rx="9.75" ry="8.35" fill="none" stroke="#231f20" stroke-width="4.2"/>
<ellipse cx="1975.62" cy="905.35" rx="9.75" ry="8.35" fill="none" stroke="#231f20" stroke-width="4.2"/>
<ellipse cx="1972.18" cy="900.65" rx="9.75" ry="8.35" fill="none" stroke="#231f20" stroke-width="4.2"/>
<ellipse cx="1976.05" cy="901.36" rx="9.75" ry="8.35" fill="none" stroke="#231f20" stroke-width="4.2"/>
<rect x="1509.40" y="451.80" width="45.20" height="20.40" fill="#0433ff" stroke="#231f20" stroke-width="3"/>
<rect x="1509.40" y="495.40" width="45.20" height="20.80" fill="#a3a2a7" stroke="#231f20" stroke-width="3"/>
<text transform="translate(1569.70,472.50)" font-size="28.8">Allele with precise correction</text>
<text transform="translate(1569.70,515.80)" font-size="28.8">Allele with bystander base editing</text>
<text transform="translate(1137.30,684.60) rotate(-90)" font-size="28.6" text-anchor="middle">Frequency of <tspan font-style="italic">Rpe65</tspan> allelic variants (%)</text>
<text transform="translate(1306.60,948.60) rotate(-34)" font-size="28.6" text-anchor="end">wtABE + A5</text>
<text transform="translate(1402.50,948.60) rotate(-34)" font-size="28.6" text-anchor="end">NG-ABE + A5</text>
<text transform="translate(1498.40,948.60) rotate(-34)" font-size="28.6" text-anchor="end">xABE + A5</text>
<text transform="translate(1594.30,948.60) rotate(-34)" font-size="28.6" text-anchor="end">NRRH-ABE + A5</text>
<text transform="translate(1690.20,948.60) rotate(-34)" font-size="28.6" text-anchor="end">wtABE + A6</text>
<text transform="translate(1786.10,948.60) rotate(-34)" font-size="28.6" text-anchor="end">NG-ABE + A6</text>
<text transform="translate(1882.00,948.60) rotate(-34)" font-size="28.6" text-anchor="end">xABE + A6</text>
<text transform="translate(1977.90,948.60) rotate(-34)" font-size="28.6" text-anchor="end">NRRH-ABE + A6</text>
<text transform="translate(32.20,1097.30)" font-size="43" font-weight="bold">d</text>
<line x1="279.00" y1="1236.00" x2="294.00" y2="1236.00" stroke="#a6a6a6" stroke-width="4"/>
<line x1="530.00" y1="1236.00" x2="542.00" y2="1236.00" stroke="#a6a6a6" stroke-width="4"/>
<line x1="895.00" y1="1236.00" x2="906.00" y2="1236.00" stroke="#a6a6a6" stroke-width="4"/>
<rect x="200.95" y="1214.65" width="77.80" height="43.70" rx="7" fill="#dcdcdc" stroke="#000" stroke-width="4.5"/>
<text transform="translate(239.90,1245.60)" font-size="28.8" text-anchor="middle">LTR</text>
<path d="M294.45,1214.65 L336.95,1214.65 L336.95,1193.00 L374.80,1236.50 L336.95,1280.00 L336.95,1258.35 L294.45,1258.35 Z" fill="#00aeef" stroke="#000" stroke-width="4.5" stroke-linejoin="miter" stroke-miterlimit="10"/>
<text transform="translate(331.90,1245.60)" font-size="28.8" text-anchor="middle">U6</text>
<rect x="378.55" y="1214.65" width="150.90" height="43.70" rx="7" fill="#12cad6" stroke="#000" stroke-width="4.5"/>
<text transform="translate(453.80,1245.60)" font-size="28.8" text-anchor="middle">sgRNA A6</text>
<path d="M542.65,1214.65 L633.35,1214.65 L633.35,1193.00 L673.70,1236.50 L633.35,1280.00 L633.35,1258.35 L542.65,1258.35 Z" fill="#ff0000" stroke="#000" stroke-width="4.5" stroke-linejoin="miter" stroke-miterlimit="10"/>
<text transform="translate(610.20,1245.60)" font-size="28.8" text-anchor="middle">CMV</text>
<rect x="678.15" y="1214.65" width="216.60" height="43.70" rx="7" fill="#ffccf5" stroke="#000" stroke-width="4.5"/>
<text transform="translate(786.20,1245.60)" font-size="28.8" text-anchor="middle">NG-ABE</text>
<rect x="906.25" y="1214.65" width="77.80" height="43.70" rx="7" fill="#dcdcdc" stroke="#000" stroke-width="4.5"/>
<text transform="translate(945.60,1245.60)" font-size="28.8" text-anchor="middle">LTR</text>
<path d="M178.5,1239.3 C112,1247 82.7,1285 82.7,1328 C82.7,1376 118,1404 162,1413.5" fill="none" stroke="#000" stroke-width="4.2"/>
<path d="M178.5,1417 L158.3,1405.2 L164.2,1414.6 L154.4,1423.6 Z" fill="#000"/>
<g>
<path d="M309,1430.5 C320,1426.5 330,1421.5 338,1418 C346,1414.6 354,1414 359,1418 C363.5,1422 361.5,1428.5 355.5,1432 C350,1435.2 344.5,1437 343.2,1441" fill="none" stroke="#b98880" stroke-width="4.6" stroke-linecap="round"/>
<path d="M306,1446 L314,1446.5 L318.6,1449.5 L316,1452 L310,1450.5 L305,1452 Z" fill="#c39891"/>
<path d="M205.3,1420.3 C207,1416 211,1413 215.5,1410.6 C217,1409 219,1407.3 220.6,1406 L236.9,1404 C242,1404.5 247,1406 251.2,1407.6 L278.8,1408.6 C282,1407.2 284.5,1406.8 286.9,1407 C291,1407.6 294.5,1409.4 297.1,1411.6 C300.5,1414.3 303.2,1417.4 305.3,1420.8 C307.6,1424 309.3,1427.4 310.4,1431 C311.4,1434.4 311.5,1437.8 310.9,1441.2 C310.3,1444.8 309,1448.2 307.3,1451.4 C305.6,1454.4 303.6,1457.1 301.2,1459.6 C298.5,1462.4 295.4,1464.8 292,1466.7 L288,1476.9 L276.7,1474.9 L274.7,1471.8 C270,1470.6 265.5,1469 261.4,1467.8 C255,1466.3 249,1465.6 243.1,1465.7 L241.5,1468.5 L234.9,1466.7 C232.2,1463.2 229.9,1459.4 227.8,1455.5 C225.5,1452 223.1,1448.6 220.6,1445.3 C217.4,1441.6 213.8,1438.4 210.4,1435.1 C208,1432.6 206,1430 205.3,1426.9 C204.6,1424.6 204.6,1422.4 205.3,1420.3 Z" fill="#4f4a47"/>
<path d="M283,1413 C294,1414 303,1424 304.5,1437 C305.5,1448 300,1458 291,1463 C296,1452 297,1440 293,1429 C291,1423 287.5,1417.5 283,1413 Z" fill="#56514e"/>
<path d="M262,1452 C270,1458 280,1462 290,1464 L288,1476.9 L276.7,1474.9 L274.7,1471.8 C270,1466 266,1459 262,1452 Z" fill="#433e3c"/>
<path d="M216,1409.6 C219,1401 226,1393.5 233.4,1388.7 C235.6,1393.6 236.9,1399 236.9,1404 L238,1410 L218,1412 Z" fill="#4f4a47"/>
<path d="M216.6,1408.6 C219.6,1401.4 225.6,1394.6 232,1390.4 C228.4,1395.4 225.2,1400.6 223.6,1405.8 Z" fill="#b58a83"/>
<ellipse cx="265.5" cy="1407.8" rx="14.2" ry="16.6" fill="#c39891" transform="rotate(-10 265.5 1407.8)"/>
<path d="M260.5,1407 C261.5,1401.5 267.5,1399.8 271,1404.4 C272.6,1409.4 269,1416.4 263.4,1419.6 C265.2,1414.4 263.8,1409.2 260.5,1407 Z" fill="#cfa7a0"/>
<path d="M256.5,1420.5 C262,1425 271,1424.6 277.5,1417.5 C276,1424.6 270,1428.6 262.5,1428 C259.5,1426 257.5,1423.4 256.5,1420.5 Z" fill="#4f4a47"/>
<ellipse cx="209.9" cy="1420.8" rx="4.1" ry="3.2" fill="#c39891" transform="rotate(-10 209.9 1420.8)"/>
<ellipse cx="237.1" cy="1416.7" rx="4.5" ry="3.0" fill="#1f1b1b" transform="rotate(18 237.1 1416.7)"/>
<path d="M209,1431 C212,1434.2 216.5,1435.6 220.6,1435" fill="none" stroke="#3a3533" stroke-width="0.7"/>
<line x1="206.00" y1="1418.00" x2="194.00" y2="1413.50" stroke="#d2cfcd" stroke-width="0.5"/>
<line x1="206.00" y1="1421.00" x2="193.50" y2="1421.50" stroke="#d2cfcd" stroke-width="0.5"/>
<line x1="207.00" y1="1424.00" x2="196.00" y2="1427.50" stroke="#d2cfcd" stroke-width="0.5"/>
<line x1="215.00" y1="1421.00" x2="226.00" y2="1425.00" stroke="#6a6562" stroke-width="0.5"/>
<line x1="216.00" y1="1423.00" x2="227.00" y2="1429.00" stroke="#6a6562" stroke-width="0.5"/>
<path d="M234.9,1466.7 L243.1,1466.2 L242.4,1476 L243.1,1480.5 L241.5,1484 L238.6,1481.6 L236.8,1484.4 L233.6,1481.6 L230.2,1483.6 L226.2,1480.4 L234.6,1476.4 Z" fill="#c39891"/>
<path d="M277.6,1474.5 L287.4,1476.3 L286.6,1486.4 L293.1,1490.6 L291.2,1493.6 L287.4,1491 L286,1494.3 L282.4,1491.2 L279.6,1494 L275.7,1490.4 L280.4,1486.6 Z" fill="#c39891"/>
</g>
<g transform="translate(154.7,1337.2) rotate(43.8)">
<rect x="-1.4" y="-4.3" width="2.8" height="8.6" rx="1.3" fill="#c4c7c8"/>
<path d="M1.2,-2.2 L13,-2.2 L16,-2.8 L30,-2.8 L30,2.8 L16,2.8 L13,2.2 L1.2,2.2 Z" fill="#dfe3e3" stroke="#c3c7c7" stroke-width="0.5"/>
<rect x="29.4" y="-8.5" width="3.4" height="17" rx="1.6" fill="#aeb1b3"/>
<rect x="32.6" y="-4.7" width="17" height="9.4" fill="#e2e5e5"/>
<rect x="32.6" y="-4.7" width="17" height="2.2" fill="#c9cdcd"/>
<rect x="32.6" y="2.9" width="17" height="1.8" fill="#cfd3d3"/>
<rect x="49.1" y="-4.7" width="6.4" height="9.4" fill="#3b3b3c"/>
<rect x="55.5" y="-4.7" width="29.3" height="9.4" fill="#68a3cd"/>
<rect x="57.5" y="1.2" width="26" height="0.8" fill="#8fbfe0"/>
<path d="M84.8,-4.7 L85.8,-3.0 L89.6,-1.3 L89.6,1.3 L85.8,3.0 L84.8,4.7 Z" fill="#5c98c6"/>
<rect x="89.4" y="-0.9" width="7.4" height="1.8" fill="#2f9c96"/>
</g>
<text transform="translate(181.40,1526.90)" font-size="28.8"><tspan font-style="italic">rd12</tspan> mouse</text>
<line x1="447.30" y1="1453.40" x2="955.00" y2="1453.40" stroke="#000" stroke-width="3.8"/>
<line x1="447.30" y1="1435.00" x2="447.30" y2="1473.00" stroke="#000" stroke-width="3.8"/>
<line x1="849.00" y1="1435.00" x2="849.00" y2="1473.00" stroke="#000" stroke-width="3.8"/>
<path d="M980.9,1453.4 L942.2,1437.6 L953.3,1453.4 L942.2,1469.2 Z" fill="#000"/>
<text transform="translate(447.60,1373.50)" font-size="28.8" text-anchor="middle">subretinal</text>
<text transform="translate(447.60,1408.10)" font-size="28.8" text-anchor="middle">injection</text>
<text transform="translate(849.10,1373.50)" font-size="28.8" text-anchor="middle">genomic and functional</text>
<text transform="translate(849.10,1408.10)" font-size="28.8" text-anchor="middle">assessment</text>
<text transform="translate(447.90,1527.90)" font-size="28.8" text-anchor="middle">3 wk</text>
<text transform="translate(849.50,1527.90)" font-size="28.8" text-anchor="middle">6 wk</text>
<text transform="translate(1042.00,1097.30)" font-size="43" font-weight="bold">e</text>
<rect x="1370.63" y="1533.60" width="22.50" height="32.40" fill="#ff0000" stroke="#000" stroke-width="4.0"/>
<line x1="1367.98" y1="1533.40" x2="1395.78" y2="1533.40" stroke="#000" stroke-width="3.9"/>
<line x1="1491.06" y1="1235.00" x2="1491.06" y2="1331.30" stroke="#000" stroke-width="4.1"/>
<line x1="1484.16" y1="1235.00" x2="1497.96" y2="1235.00" stroke="#000" stroke-width="4.0"/>
<rect x="1479.81" y="1333.30" width="22.50" height="232.70" fill="#ff0000" stroke="#000" stroke-width="4.0"/>
<line x1="1477.16" y1="1333.10" x2="1504.96" y2="1333.10" stroke="#000" stroke-width="3.9"/>
<line x1="1600.24" y1="1437.40" x2="1600.24" y2="1475.50" stroke="#000" stroke-width="4.1"/>
<line x1="1593.34" y1="1437.40" x2="1607.14" y2="1437.40" stroke="#000" stroke-width="4.0"/>
<rect x="1588.99" y="1477.50" width="22.50" height="88.50" fill="#ff0000" stroke="#000" stroke-width="4.0"/>
<line x1="1586.34" y1="1477.30" x2="1614.14" y2="1477.30" stroke="#000" stroke-width="3.9"/>
<line x1="1243.80" y1="1125.30" x2="1243.80" y2="1568.10" stroke="#000" stroke-width="4.2"/>
<line x1="1225.20" y1="1566.00" x2="1998.00" y2="1566.00" stroke="#000" stroke-width="4.2"/>
<line x1="1225.20" y1="1127.40" x2="1243.80" y2="1127.40" stroke="#000" stroke-width="4.2"/>
<text transform="translate(1208.40,1135.40)" font-size="28.8" text-anchor="end">100</text>
<line x1="1225.20" y1="1215.40" x2="1243.80" y2="1215.40" stroke="#000" stroke-width="4.2"/>
<text transform="translate(1208.40,1223.40)" font-size="28.8" text-anchor="end">80</text>
<line x1="1225.20" y1="1303.30" x2="1243.80" y2="1303.30" stroke="#000" stroke-width="4.2"/>
<text transform="translate(1208.40,1311.30)" font-size="28.8" text-anchor="end">60</text>
<line x1="1225.20" y1="1391.00" x2="1243.80" y2="1391.00" stroke="#000" stroke-width="4.2"/>
<text transform="translate(1208.40,1399.00)" font-size="28.8" text-anchor="end">40</text>
<line x1="1225.20" y1="1478.30" x2="1243.80" y2="1478.30" stroke="#000" stroke-width="4.2"/>
<text transform="translate(1208.40,1486.30)" font-size="28.8" text-anchor="end">20</text>
<line x1="1225.20" y1="1566.00" x2="1243.80" y2="1566.00" stroke="#000" stroke-width="4.2"/>
<text transform="translate(1208.40,1574.00)" font-size="28.8" text-anchor="end">0</text>
<line x1="1292.00" y1="1566.00" x2="1292.00" y2="1583.20" stroke="#000" stroke-width="4.2"/>
<line x1="1401.18" y1="1566.00" x2="1401.18" y2="1583.20" stroke="#000" stroke-width="4.2"/>
<line x1="1510.36" y1="1566.00" x2="1510.36" y2="1583.20" stroke="#000" stroke-width="4.2"/>
<line x1="1619.54" y1="1566.00" x2="1619.54" y2="1583.20" stroke="#000" stroke-width="4.2"/>
<line x1="1728.72" y1="1566.00" x2="1728.72" y2="1583.20" stroke="#000" stroke-width="4.2"/>
<line x1="1837.90" y1="1566.00" x2="1837.90" y2="1583.20" stroke="#000" stroke-width="4.2"/>
<line x1="1947.08" y1="1566.00" x2="1947.08" y2="1583.20" stroke="#000" stroke-width="4.2"/>
<ellipse cx="1387.60" cy="1511.40" rx="7.65" ry="6.60" fill="none" stroke="#000" stroke-width="3.95"/>
<ellipse cx="1375.40" cy="1520.30" rx="7.65" ry="6.60" fill="none" stroke="#000" stroke-width="3.95"/>
<ellipse cx="1388.00" cy="1530.50" rx="7.65" ry="6.60" fill="none" stroke="#000" stroke-width="3.95"/>
<ellipse cx="1380.80" cy="1537.00" rx="7.65" ry="6.60" fill="none" stroke="#000" stroke-width="3.95"/>
<ellipse cx="1388.00" cy="1544.40" rx="7.65" ry="6.60" fill="none" stroke="#000" stroke-width="3.95"/>
<ellipse cx="1375.40" cy="1550.50" rx="7.65" ry="6.60" fill="none" stroke="#000" stroke-width="3.95"/>
<ellipse cx="1490.50" cy="1206.40" rx="7.65" ry="6.60" fill="none" stroke="#000" stroke-width="3.95"/>
<ellipse cx="1490.50" cy="1257.60" rx="7.65" ry="6.60" fill="none" stroke="#000" stroke-width="3.95"/>
<ellipse cx="1490.50" cy="1281.00" rx="7.65" ry="6.60" fill="none" stroke="#000" stroke-width="3.95"/>
<ellipse cx="1490.50" cy="1386.60" rx="7.65" ry="6.60" fill="none" stroke="#000" stroke-width="3.95"/>
<ellipse cx="1497.00" cy="1421.20" rx="7.65" ry="6.60" fill="none" stroke="#000" stroke-width="3.95"/>
<ellipse cx="1484.70" cy="1434.20" rx="7.65" ry="6.60" fill="none" stroke="#000" stroke-width="3.95"/>
<ellipse cx="1599.40" cy="1424.70" rx="7.65" ry="6.60" fill="none" stroke="#000" stroke-width="3.95"/>
<ellipse cx="1593.20" cy="1452.30" rx="7.65" ry="6.60" fill="none" stroke="#000" stroke-width="3.95"/>
<ellipse cx="1606.70" cy="1461.40" rx="7.65" ry="6.60" fill="none" stroke="#000" stroke-width="3.95"/>
<ellipse cx="1599.40" cy="1482.80" rx="7.65" ry="6.60" fill="none" stroke="#000" stroke-width="3.95"/>
<ellipse cx="1599.40" cy="1508.00" rx="7.65" ry="6.60" fill="none" stroke="#000" stroke-width="3.95"/>
<ellipse cx="1599.40" cy="1524.30" rx="7.65" ry="6.60" fill="none" stroke="#000" stroke-width="3.95"/>
<ellipse cx="1307.40" cy="1566.00" rx="7.65" ry="6.60" fill="none" stroke="#000" stroke-width="3.95"/>
<ellipse cx="1311.30" cy="1566.00" rx="7.65" ry="6.60" fill="none" stroke="#000" stroke-width="3.95"/>
<ellipse cx="1315.20" cy="1566.00" rx="7.65" ry="6.60" fill="none" stroke="#000" stroke-width="3.95"/>
<ellipse cx="1319.00" cy="1566.00" rx="7.65" ry="6.60" fill="none" stroke="#000" stroke-width="3.95"/>
<ellipse cx="1266.40" cy="1566.00" rx="7.65" ry="6.60" fill="none" stroke="#000" stroke-width="3.95"/>
<ellipse cx="1268.80" cy="1566.00" rx="7.65" ry="6.60" fill="none" stroke="#000" stroke-width="3.95"/>
<ellipse cx="1271.20" cy="1566.00" rx="7.65" ry="6.60" fill="none" stroke="#000" stroke-width="3.95"/>
<ellipse cx="1273.60" cy="1566.00" rx="7.65" ry="6.60" fill="none" stroke="#000" stroke-width="3.95"/>
<ellipse cx="1276.00" cy="1566.00" rx="7.65" ry="6.60" fill="none" stroke="#000" stroke-width="3.95"/>
<ellipse cx="1278.20" cy="1566.00" rx="7.65" ry="6.60" fill="none" stroke="#000" stroke-width="3.95"/>
<ellipse cx="1416.58" cy="1566.00" rx="7.65" ry="6.60" fill="none" stroke="#000" stroke-width="3.95"/>
<ellipse cx="1420.48" cy="1566.00" rx="7.65" ry="6.60" fill="none" stroke="#000" stroke-width="3.95"/>
<ellipse cx="1424.38" cy="1566.00" rx="7.65" ry="6.60" fill="none" stroke="#000" stroke-width="3.95"/>
<ellipse cx="1428.18" cy="1566.00" rx="7.65" ry="6.60" fill="none" stroke="#000" stroke-width="3.95"/>
<ellipse cx="1525.76" cy="1566.00" rx="7.65" ry="6.60" fill="none" stroke="#000" stroke-width="3.95"/>
<ellipse cx="1529.66" cy="1566.00" rx="7.65" ry="6.60" fill="none" stroke="#000" stroke-width="3.95"/>
<ellipse cx="1533.56" cy="1566.00" rx="7.65" ry="6.60" fill="none" stroke="#000" stroke-width="3.95"/>
<ellipse cx="1537.36" cy="1566.00" rx="7.65" ry="6.60" fill="none" stroke="#000" stroke-width="3.95"/>
<ellipse cx="1634.94" cy="1566.00" rx="7.65" ry="6.60" fill="none" stroke="#000" stroke-width="3.95"/>
<ellipse cx="1638.84" cy="1566.00" rx="7.65" ry="6.60" fill="none" stroke="#000" stroke-width="3.95"/>
<ellipse cx="1642.74" cy="1566.00" rx="7.65" ry="6.60" fill="none" stroke="#000" stroke-width="3.95"/>
<ellipse cx="1646.54" cy="1566.00" rx="7.65" ry="6.60" fill="none" stroke="#000" stroke-width="3.95"/>
<ellipse cx="1744.12" cy="1566.00" rx="7.65" ry="6.60" fill="none" stroke="#000" stroke-width="3.95"/>
<ellipse cx="1748.02" cy="1566.00" rx="7.65" ry="6.60" fill="none" stroke="#000" stroke-width="3.95"/>
<ellipse cx="1751.92" cy="1566.00" rx="7.65" ry="6.60" fill="none" stroke="#000" stroke-width="3.95"/>
<ellipse cx="1755.72" cy="1566.00" rx="7.65" ry="6.60" fill="none" stroke="#000" stroke-width="3.95"/>
<ellipse cx="1703.12" cy="1564.50" rx="7.65" ry="6.60" fill="none" stroke="#000" stroke-width="3.95"/>
<ellipse cx="1705.52" cy="1564.50" rx="7.65" ry="6.60" fill="none" stroke="#000" stroke-width="3.95"/>
<ellipse cx="1707.92" cy="1564.50" rx="7.65" ry="6.60" fill="none" stroke="#000" stroke-width="3.95"/>
<ellipse cx="1710.32" cy="1564.50" rx="7.65" ry="6.60" fill="none" stroke="#000" stroke-width="3.95"/>
<ellipse cx="1712.72" cy="1564.50" rx="7.65" ry="6.60" fill="none" stroke="#000" stroke-width="3.95"/>
<ellipse cx="1714.92" cy="1564.50" rx="7.65" ry="6.60" fill="none" stroke="#000" stroke-width="3.95"/>
<ellipse cx="1853.30" cy="1566.00" rx="7.65" ry="6.60" fill="none" stroke="#000" stroke-width="3.95"/>
<ellipse cx="1857.20" cy="1566.00" rx="7.65" ry="6.60" fill="none" stroke="#000" stroke-width="3.95"/>
<ellipse cx="1861.10" cy="1566.00" rx="7.65" ry="6.60" fill="none" stroke="#000" stroke-width="3.95"/>
<ellipse cx="1864.90" cy="1566.00" rx="7.65" ry="6.60" fill="none" stroke="#000" stroke-width="3.95"/>
<ellipse cx="1812.30" cy="1564.50" rx="7.65" ry="6.60" fill="none" stroke="#000" stroke-width="3.95"/>
<ellipse cx="1814.70" cy="1564.50" rx="7.65" ry="6.60" fill="none" stroke="#000" stroke-width="3.95"/>
<ellipse cx="1817.10" cy="1564.50" rx="7.65" ry="6.60" fill="none" stroke="#000" stroke-width="3.95"/>
<ellipse cx="1819.50" cy="1564.50" rx="7.65" ry="6.60" fill="none" stroke="#000" stroke-width="3.95"/>
<ellipse cx="1821.90" cy="1564.50" rx="7.65" ry="6.60" fill="none" stroke="#000" stroke-width="3.95"/>
<ellipse cx="1824.10" cy="1564.50" rx="7.65" ry="6.60" fill="none" stroke="#000" stroke-width="3.95"/>
<ellipse cx="1962.48" cy="1566.00" rx="7.65" ry="6.60" fill="none" stroke="#000" stroke-width="3.95"/>
<ellipse cx="1966.38" cy="1566.00" rx="7.65" ry="6.60" fill="none" stroke="#000" stroke-width="3.95"/>
<ellipse cx="1970.28" cy="1566.00" rx="7.65" ry="6.60" fill="none" stroke="#000" stroke-width="3.95"/>
<ellipse cx="1974.08" cy="1566.00" rx="7.65" ry="6.60" fill="none" stroke="#000" stroke-width="3.95"/>
<ellipse cx="1921.48" cy="1566.00" rx="7.65" ry="6.60" fill="none" stroke="#000" stroke-width="3.95"/>
<ellipse cx="1923.88" cy="1566.00" rx="7.65" ry="6.60" fill="none" stroke="#000" stroke-width="3.95"/>
<ellipse cx="1926.28" cy="1566.00" rx="7.65" ry="6.60" fill="none" stroke="#000" stroke-width="3.95"/>
<ellipse cx="1928.68" cy="1566.00" rx="7.65" ry="6.60" fill="none" stroke="#000" stroke-width="3.95"/>
<ellipse cx="1931.08" cy="1566.00" rx="7.65" ry="6.60" fill="none" stroke="#000" stroke-width="3.95"/>
<ellipse cx="1933.28" cy="1566.00" rx="7.65" ry="6.60" fill="none" stroke="#000" stroke-width="3.95"/>
<rect x="1780.30" y="1113.60" width="45.00" height="21.00" fill="#ff0000" stroke="#231f20" stroke-width="3"/>
<rect x="1780.30" y="1157.40" width="45.00" height="21.00" fill="#a3a2a7" stroke="#231f20" stroke-width="3"/>
<text transform="translate(1840.80,1134.00)" font-size="28.8">ABE-treated</text>
<text transform="translate(1840.80,1177.90)" font-size="28.8">Untreated</text>
<text transform="translate(1102.60,1351.80) rotate(-90)" font-size="28.8" text-anchor="middle">Total sequencing reads with A-to-G</text>
<text transform="translate(1138.60,1347.20) rotate(-90)" font-size="28.8" text-anchor="middle">conversion in <tspan font-style="italic">Rpe65</tspan> cDNA (%)</text>
<text transform="translate(1276.40,1620.40)" font-size="29">A<tspan font-size="17.8" dy="6.1">1</tspan></text>
<text transform="translate(1385.58,1620.40)" font-size="29">A<tspan font-size="17.8" dy="6.1">3</tspan></text>
<text transform="translate(1494.76,1620.40)" font-size="29">A<tspan font-size="17.8" dy="6.1">6</tspan></text>
<text transform="translate(1603.94,1620.40)" font-size="29">A<tspan font-size="17.8" dy="6.1">8</tspan></text>
<text transform="translate(1707.17,1620.40)" font-size="29">A<tspan font-size="17.8" dy="6.1">11</tspan></text>
<text transform="translate(1816.35,1620.40)" font-size="29">A<tspan font-size="17.8" dy="6.1">13</tspan></text>
<text transform="translate(1925.53,1620.40)" font-size="29">A<tspan font-size="17.8" dy="6.1">19</tspan></text>
<text transform="translate(1270.90,1674.10)" font-size="27.2" fill="#231f20">A</text>
<text transform="translate(1289.64,1684.30)" font-size="15.8" fill="#231f20">1</text>
<text transform="translate(1298.90,1674.10)" font-size="27.2" fill="#231f20">C</text>
<text transform="translate(1319.14,1684.30)" font-size="15.8" fill="#231f20">2</text>
<text transform="translate(1330.50,1674.10)" font-size="27.2" fill="#231f20">A</text>
<text transform="translate(1349.24,1684.30)" font-size="15.8" fill="#231f20">3</text>
<text transform="translate(1358.20,1674.10)" font-size="27.2" fill="#231f20">T</text>
<text transform="translate(1375.42,1684.30)" font-size="15.8" fill="#231f20">4</text>
<text transform="translate(1384.70,1674.10)" font-size="27.2" fill="#231f20">C</text>
<text transform="translate(1404.94,1684.30)" font-size="15.8" fill="#231f20">5</text>
<text transform="translate(1416.70,1674.10)" font-size="27.2" fill="#ee1c25">A</text>
<text transform="translate(1435.44,1684.30)" font-size="15.8" fill="#ee1c25">6</text>
<text transform="translate(1444.30,1674.10)" font-size="27.2" fill="#231f20">G</text>
<text transform="translate(1466.06,1684.30)" font-size="15.8" fill="#231f20">7</text>
<text transform="translate(1476.80,1674.10)" font-size="27.2" fill="#231f20">A</text>
<text transform="translate(1495.54,1684.30)" font-size="15.8" fill="#231f20">8</text>
<text transform="translate(1504.60,1674.10)" font-size="27.2" fill="#231f20">G</text>
<text transform="translate(1526.36,1684.30)" font-size="15.8" fill="#231f20">9</text>
<text transform="translate(1536.30,1674.10)" font-size="27.2" fill="#231f20">G</text>
<text transform="translate(1558.06,1684.30)" font-size="15.8" fill="#231f20">10</text>
<text transform="translate(1578.80,1674.10)" font-size="27.2" fill="#231f20">A</text>
<text transform="translate(1597.54,1684.30)" font-size="15.8" fill="#231f20">11</text>
<text transform="translate(1615.00,1674.10)" font-size="27.2" fill="#231f20">G</text>
<text transform="translate(1636.76,1684.30)" font-size="15.8" fill="#231f20">12</text>
<text transform="translate(1656.90,1674.10)" font-size="27.2" fill="#231f20">A</text>
<text transform="translate(1675.64,1684.30)" font-size="15.8" fill="#231f20">13</text>
<text transform="translate(1694.50,1674.10)" font-size="27.2" fill="#231f20">C</text>
<text transform="translate(1714.74,1684.30)" font-size="15.8" fill="#231f20">14</text>
<text transform="translate(1734.30,1674.10)" font-size="27.2" fill="#231f20">T</text>
<text transform="translate(1751.52,1684.30)" font-size="15.8" fill="#231f20">15</text>
<text transform="translate(1770.70,1674.10)" font-size="27.2" fill="#231f20">G</text>
<text transform="translate(1792.46,1684.30)" font-size="15.8" fill="#231f20">16</text>
<text transform="translate(1811.10,1674.10)" font-size="27.2" fill="#231f20">C</text>
<text transform="translate(1831.34,1684.30)" font-size="15.8" fill="#231f20">17</text>
<text transform="translate(1850.90,1674.10)" font-size="27.2" fill="#231f20">C</text>
<text transform="translate(1871.14,1684.30)" font-size="15.8" fill="#231f20">18</text>
<text transform="translate(1891.10,1674.10)" font-size="27.2" fill="#231f20">A</text>
<text transform="translate(1909.84,1684.30)" font-size="15.8" fill="#231f20">19</text>
<text transform="translate(1928.70,1674.10)" font-size="27.2" fill="#231f20">G</text>
<text transform="translate(1950.46,1684.30)" font-size="15.8" fill="#231f20">20</text>
<text transform="translate(33.60,1755.70)" font-size="43" font-weight="bold">f</text>
<line x1="299.00" y1="1901.10" x2="299.00" y2="2004.00" stroke="#000" stroke-width="4.0"/>
<line x1="280.10" y1="1901.00" x2="317.90" y2="1901.00" stroke="#000" stroke-width="4.1"/>
<rect x="264.10" y="2004.60" width="70.20" height="234.40" fill="#ff0000" stroke="#000" stroke-width="4.2"/>
<line x1="224.10" y1="1798.70" x2="224.10" y2="2241.10" stroke="#000" stroke-width="4.2"/>
<line x1="207.20" y1="2239.00" x2="489.10" y2="2239.00" stroke="#000" stroke-width="4.2"/>
<line x1="207.20" y1="1800.80" x2="224.10" y2="1800.80" stroke="#000" stroke-width="4.2"/>
<text transform="translate(193.80,1808.80)" font-size="28.8" text-anchor="end">50</text>
<line x1="207.20" y1="1888.30" x2="224.10" y2="1888.30" stroke="#000" stroke-width="4.2"/>
<text transform="translate(193.80,1896.30)" font-size="28.8" text-anchor="end">40</text>
<line x1="207.20" y1="1976.30" x2="224.10" y2="1976.30" stroke="#000" stroke-width="4.2"/>
<text transform="translate(193.80,1984.30)" font-size="28.8" text-anchor="end">30</text>
<line x1="207.20" y1="2063.80" x2="224.10" y2="2063.80" stroke="#000" stroke-width="4.2"/>
<text transform="translate(193.80,2071.80)" font-size="28.8" text-anchor="end">20</text>
<line x1="207.20" y1="2151.20" x2="224.10" y2="2151.20" stroke="#000" stroke-width="4.2"/>
<text transform="translate(193.80,2159.20)" font-size="28.8" text-anchor="end">10</text>
<line x1="207.20" y1="2239.00" x2="224.10" y2="2239.00" stroke="#000" stroke-width="4.2"/>
<text transform="translate(189.50,2247.00)" font-size="28.8" text-anchor="end">0</text>
<line x1="299.00" y1="2239.00" x2="299.00" y2="2256.50" stroke="#000" stroke-width="4.2"/>
<line x1="411.90" y1="2239.00" x2="411.90" y2="2256.50" stroke="#000" stroke-width="4.2"/>
<ellipse cx="287.20" cy="1889.10" rx="6.00" ry="6.70" fill="none" stroke="#000" stroke-width="3.95"/>
<ellipse cx="310.90" cy="1884.80" rx="6.00" ry="6.70" fill="none" stroke="#000" stroke-width="3.95"/>
<ellipse cx="299.00" cy="1968.00" rx="6.00" ry="6.70" fill="none" stroke="#000" stroke-width="3.95"/>
<ellipse cx="299.00" cy="2080.70" rx="6.00" ry="6.70" fill="none" stroke="#000" stroke-width="3.95"/>
<ellipse cx="311.30" cy="2094.10" rx="6.00" ry="6.70" fill="none" stroke="#000" stroke-width="3.95"/>
<ellipse cx="287.40" cy="2101.10" rx="6.00" ry="6.70" fill="none" stroke="#000" stroke-width="3.95"/>
<line x1="374.30" y1="2235.80" x2="449.20" y2="2235.80" stroke="#000" stroke-width="3.6"/>
<ellipse cx="388.50" cy="2239.00" rx="6.00" ry="6.70" fill="none" stroke="#000" stroke-width="3.95"/>
<ellipse cx="411.90" cy="2239.00" rx="6.00" ry="6.70" fill="none" stroke="#000" stroke-width="3.95"/>
<ellipse cx="435.50" cy="2239.00" rx="6.00" ry="6.70" fill="none" stroke="#000" stroke-width="3.95"/>
<text transform="translate(100.80,2020.50) rotate(-90)" font-size="28.8" text-anchor="middle">Frequency of precisely corrected</text>
<text transform="translate(135.80,2019.90) rotate(-90)" font-size="28.8" text-anchor="middle"><tspan font-style="italic">Rpe65</tspan> transcripts (%)</text>
<text transform="translate(322.20,2280.80) rotate(-34)" font-size="28.6" text-anchor="end">ABE-treated</text>
<text transform="translate(434.00,2280.80) rotate(-34)" font-size="28.6" text-anchor="end">Untreated</text>
<text transform="translate(487.40,1755.20)" font-size="43" font-weight="bold">g</text>
<rect x="716.90" y="1867.00" width="57.00" height="371.30" fill="#a3a2a7" stroke="#000" stroke-width="4.2"/>
<line x1="730.90" y1="1863.60" x2="759.90" y2="1863.60" stroke="#000" stroke-width="4.8" stroke-linecap="round"/>
<rect x="808.40" y="1867.00" width="57.00" height="371.30" fill="#0433ff" stroke="#000" stroke-width="4.2"/>
<line x1="822.40" y1="1863.60" x2="851.40" y2="1863.60" stroke="#000" stroke-width="4.8" stroke-linecap="round"/>
<line x1="928.80" y1="1839.20" x2="928.80" y2="1870.00" stroke="#000" stroke-width="4.0"/>
<line x1="913.40" y1="1839.20" x2="942.10" y2="1839.20" stroke="#000" stroke-width="4.0" stroke-linecap="round"/>
<rect x="900.05" y="2138.50" width="57.20" height="99.80" fill="#0433ff" stroke="#000" stroke-width="4.2"/>
<rect x="900.05" y="2048.00" width="57.20" height="90.50" fill="#0ccbda" stroke="#000" stroke-width="4.2"/>
<rect x="900.05" y="2040.50" width="57.20" height="7.50" fill="#ff6a00" stroke="#000" stroke-width="3.6"/>
<rect x="900.05" y="1877.20" width="57.20" height="163.30" fill="#a3a2a7" stroke="#000" stroke-width="4.2"/>
<rect x="900.05" y="1870.30" width="57.20" height="6.90" fill="#f4f4f4" stroke="#000" stroke-width="3.6"/>
<line x1="913.60" y1="1866.80" x2="941.90" y2="1866.80" stroke="#000" stroke-width="4.4" stroke-linecap="round"/>
<line x1="928.80" y1="1866.00" x2="928.80" y2="1877.00" stroke="#000" stroke-width="4.0"/>
<line x1="928.80" y1="2118.20" x2="928.80" y2="2138.50" stroke="#000" stroke-width="4.0"/>
<line x1="913.40" y1="2118.20" x2="942.10" y2="2118.20" stroke="#000" stroke-width="3.8" stroke-linecap="round"/>
<line x1="928.80" y1="2031.00" x2="928.80" y2="2048.00" stroke="#000" stroke-width="4.0"/>
<line x1="913.40" y1="2031.20" x2="942.10" y2="2031.20" stroke="#000" stroke-width="3.6" stroke-linecap="round"/>
<line x1="913.60" y1="2036.90" x2="941.90" y2="2036.90" stroke="#000" stroke-width="4.4" stroke-linecap="round"/>
<line x1="684.10" y1="1798.60" x2="684.10" y2="2240.90" stroke="#000" stroke-width="4.3" stroke-linecap="round"/>
<line x1="664.40" y1="2238.90" x2="991.50" y2="2238.90" stroke="#000" stroke-width="4.3" stroke-linecap="round"/>
<line x1="664.40" y1="1858.60" x2="686.20" y2="1858.60" stroke="#000" stroke-width="4.3" stroke-linecap="round"/>
<text transform="translate(644.50,1866.60)" font-size="28.8" text-anchor="end" fill="#231f20">100</text>
<line x1="664.40" y1="1934.54" x2="686.20" y2="1934.54" stroke="#000" stroke-width="4.3" stroke-linecap="round"/>
<text transform="translate(644.50,1942.54)" font-size="28.8" text-anchor="end" fill="#231f20">80</text>
<line x1="664.40" y1="2010.48" x2="686.20" y2="2010.48" stroke="#000" stroke-width="4.3" stroke-linecap="round"/>
<text transform="translate(644.50,2018.48)" font-size="28.8" text-anchor="end" fill="#231f20">60</text>
<line x1="664.40" y1="2086.42" x2="686.20" y2="2086.42" stroke="#000" stroke-width="4.3" stroke-linecap="round"/>
<text transform="translate(644.50,2094.42)" font-size="28.8" text-anchor="end" fill="#231f20">40</text>
<line x1="664.40" y1="2162.36" x2="686.20" y2="2162.36" stroke="#000" stroke-width="4.3" stroke-linecap="round"/>
<text transform="translate(644.50,2170.36)" font-size="28.8" text-anchor="end" fill="#231f20">20</text>
<line x1="664.40" y1="2238.30" x2="686.20" y2="2238.30" stroke="#000" stroke-width="4.3" stroke-linecap="round"/>
<text transform="translate(644.50,2246.30)" font-size="28.8" text-anchor="end" fill="#231f20">0</text>
<line x1="745.10" y1="2238.30" x2="745.10" y2="2256.20" stroke="#000" stroke-width="4.3" stroke-linecap="round"/>
<line x1="836.50" y1="2238.30" x2="836.50" y2="2256.20" stroke="#000" stroke-width="4.3" stroke-linecap="round"/>
<line x1="928.90" y1="2238.30" x2="928.90" y2="2256.20" stroke="#000" stroke-width="4.3" stroke-linecap="round"/>
<rect x="717.00" y="1670.30" width="25.20" height="10.60" fill="#0433ff" stroke="#000" stroke-width="2.3"/>
<text transform="translate(759.80,1682.50)" font-size="23.92">WT allele</text>
<rect x="717.00" y="1705.70" width="25.20" height="10.60" fill="#0ccbda" stroke="#000" stroke-width="2.3"/>
<text transform="translate(759.80,1717.90)" font-size="23.92">Target + bystander edit</text>
<rect x="717.00" y="1741.10" width="25.20" height="10.60" fill="#ff6a00" stroke="#000" stroke-width="2.3"/>
<text transform="translate(759.80,1753.30)" font-size="23.92">Bystander edit only</text>
<rect x="717.00" y="1776.50" width="25.20" height="10.60" fill="#a3a2a7" stroke="#000" stroke-width="2.3"/>
<text transform="translate(759.80,1788.70)" font-size="23.92">Unedited allele</text>
<rect x="717.00" y="1811.90" width="25.20" height="10.60" fill="#d3d3d3" stroke="#000" stroke-width="2.3"/>
<text transform="translate(759.80,1824.10)" font-size="23.92">Indels</text>
<text transform="translate(552.30,2019.50) rotate(-90)" font-size="28.8" text-anchor="middle">Composition of <tspan font-style="italic">Rpe65</tspan> allelic</text>
<text transform="translate(586.00,2021.50) rotate(-90)" font-size="28.8" text-anchor="middle">variants in mouse RPE( %)</text>
<text transform="translate(768.70,2278.80) rotate(-34)" font-size="28.6" text-anchor="end">Untreated</text>
<text transform="translate(860.00,2279.40) rotate(-34)" font-size="28.6" text-anchor="end">WT</text>
<text transform="translate(951.50,2280.20) rotate(-34)" font-size="28.6" text-anchor="end">ABE-treated</text>
<text transform="translate(1042.20,1755.70)" font-size="43" font-weight="bold">h</text>
<line x1="1263.80" y1="2154.80" x2="1263.80" y2="2177.20" stroke="#000" stroke-width="3.9"/>
<line x1="1258.20" y1="2156.00" x2="1269.40" y2="2156.00" stroke="#000" stroke-width="3.6"/>
<rect x="1256.75" y="2179.20" width="14.10" height="59.80" fill="#ff0000" stroke="#000" stroke-width="3.9"/>
<line x1="1292.80" y1="2160.60" x2="1292.80" y2="2171.40" stroke="#000" stroke-width="3.9"/>
<line x1="1287.20" y1="2161.80" x2="1298.40" y2="2161.80" stroke="#000" stroke-width="3.6"/>
<rect x="1285.75" y="2173.40" width="14.10" height="65.60" fill="#dedede" stroke="#000" stroke-width="3.9"/>
<line x1="1339.77" y1="2177.30" x2="1339.77" y2="2192.70" stroke="#000" stroke-width="3.9"/>
<line x1="1334.17" y1="2178.50" x2="1345.37" y2="2178.50" stroke="#000" stroke-width="3.6"/>
<rect x="1332.72" y="2194.70" width="14.10" height="44.30" fill="#ff0000" stroke="#000" stroke-width="3.9"/>
<line x1="1368.77" y1="2190.70" x2="1368.77" y2="2201.40" stroke="#000" stroke-width="3.9"/>
<line x1="1363.17" y1="2191.90" x2="1374.37" y2="2191.90" stroke="#000" stroke-width="3.6"/>
<rect x="1361.72" y="2203.40" width="14.10" height="35.60" fill="#dedede" stroke="#000" stroke-width="3.9"/>
<line x1="1415.74" y1="2166.50" x2="1415.74" y2="2193.60" stroke="#000" stroke-width="3.9"/>
<line x1="1410.14" y1="2167.70" x2="1421.34" y2="2167.70" stroke="#000" stroke-width="3.6"/>
<rect x="1408.69" y="2195.60" width="14.10" height="43.40" fill="#ff0000" stroke="#000" stroke-width="3.9"/>
<line x1="1444.74" y1="2194.20" x2="1444.74" y2="2208.70" stroke="#000" stroke-width="3.9"/>
<line x1="1439.14" y1="2195.40" x2="1450.34" y2="2195.40" stroke="#000" stroke-width="3.6"/>
<rect x="1437.69" y="2210.70" width="14.10" height="28.30" fill="#dedede" stroke="#000" stroke-width="3.9"/>
<rect x="1484.66" y="2190.30" width="14.10" height="48.70" fill="#ff0000" stroke="#000" stroke-width="3.9"/>
<line x1="1520.71" y1="2173.20" x2="1520.71" y2="2190.70" stroke="#000" stroke-width="3.9"/>
<line x1="1515.11" y1="2174.40" x2="1526.31" y2="2174.40" stroke="#000" stroke-width="3.6"/>
<rect x="1513.66" y="2192.70" width="14.10" height="46.30" fill="#dedede" stroke="#000" stroke-width="3.9"/>
<line x1="1567.68" y1="2089.30" x2="1567.68" y2="2121.30" stroke="#000" stroke-width="3.9"/>
<line x1="1562.08" y1="2090.50" x2="1573.28" y2="2090.50" stroke="#000" stroke-width="3.6"/>
<rect x="1560.63" y="2123.30" width="14.10" height="115.70" fill="#ff0000" stroke="#000" stroke-width="3.9"/>
<rect x="1589.63" y="2132.00" width="14.10" height="107.00" fill="#dedede" stroke="#000" stroke-width="3.9"/>
<line x1="1643.65" y1="2174.40" x2="1643.65" y2="2201.50" stroke="#000" stroke-width="3.9"/>
<line x1="1638.05" y1="2175.60" x2="1649.25" y2="2175.60" stroke="#000" stroke-width="3.6"/>
<rect x="1636.60" y="2203.50" width="14.10" height="35.50" fill="#ff0000" stroke="#000" stroke-width="3.9"/>
<line x1="1672.65" y1="2191.30" x2="1672.65" y2="2200.00" stroke="#000" stroke-width="3.9"/>
<line x1="1667.05" y1="2192.50" x2="1678.25" y2="2192.50" stroke="#000" stroke-width="3.6"/>
<rect x="1665.60" y="2202.00" width="14.10" height="37.00" fill="#dedede" stroke="#000" stroke-width="3.9"/>
<rect x="1712.57" y="2199.10" width="14.10" height="39.90" fill="#ff0000" stroke="#000" stroke-width="3.9"/>
<line x1="1748.62" y1="2188.90" x2="1748.62" y2="2198.60" stroke="#000" stroke-width="3.9"/>
<line x1="1743.02" y1="2190.10" x2="1754.22" y2="2190.10" stroke="#000" stroke-width="3.6"/>
<rect x="1741.57" y="2200.60" width="14.10" height="38.40" fill="#dedede" stroke="#000" stroke-width="3.9"/>
<line x1="1795.59" y1="2191.30" x2="1795.59" y2="2201.50" stroke="#000" stroke-width="3.9"/>
<line x1="1789.99" y1="2192.50" x2="1801.19" y2="2192.50" stroke="#000" stroke-width="3.6"/>
<rect x="1788.54" y="2203.50" width="14.10" height="35.50" fill="#ff0000" stroke="#000" stroke-width="3.9"/>
<line x1="1824.59" y1="2182.00" x2="1824.59" y2="2203.00" stroke="#000" stroke-width="3.9"/>
<line x1="1818.99" y1="2183.20" x2="1830.19" y2="2183.20" stroke="#000" stroke-width="3.6"/>
<rect x="1817.54" y="2205.00" width="14.10" height="34.00" fill="#dedede" stroke="#000" stroke-width="3.9"/>
<line x1="1871.56" y1="2187.80" x2="1871.56" y2="2201.50" stroke="#000" stroke-width="3.9"/>
<line x1="1865.96" y1="2189.00" x2="1877.16" y2="2189.00" stroke="#000" stroke-width="3.6"/>
<rect x="1864.51" y="2203.50" width="14.10" height="35.50" fill="#ff0000" stroke="#000" stroke-width="3.9"/>
<rect x="1893.51" y="2196.20" width="14.10" height="42.80" fill="#dedede" stroke="#000" stroke-width="3.9"/>
<line x1="1947.53" y1="2160.70" x2="1947.53" y2="2168.00" stroke="#000" stroke-width="3.9"/>
<line x1="1941.93" y1="2161.90" x2="1953.13" y2="2161.90" stroke="#000" stroke-width="3.6"/>
<rect x="1940.48" y="2170.00" width="14.10" height="69.00" fill="#ff0000" stroke="#000" stroke-width="3.9"/>
<rect x="1969.48" y="2174.30" width="14.10" height="64.70" fill="#dedede" stroke="#000" stroke-width="3.9"/>
<line x1="1245.60" y1="1799.60" x2="1245.60" y2="2241.10" stroke="#000" stroke-width="4.2"/>
<line x1="1225.50" y1="2239.00" x2="1998.00" y2="2239.00" stroke="#000" stroke-width="4.2"/>
<line x1="1225.50" y1="1801.70" x2="1245.60" y2="1801.70" stroke="#000" stroke-width="4.2"/>
<text transform="translate(1209.60,1809.70)" font-size="28.8" text-anchor="end">0.20</text>
<line x1="1225.50" y1="1910.90" x2="1245.60" y2="1910.90" stroke="#000" stroke-width="4.2"/>
<text transform="translate(1209.60,1918.90)" font-size="28.8" text-anchor="end">0.15</text>
<line x1="1225.50" y1="2019.30" x2="1245.60" y2="2019.30" stroke="#000" stroke-width="4.2"/>
<text transform="translate(1209.60,2027.30)" font-size="28.8" text-anchor="end">0.10</text>
<line x1="1225.50" y1="2129.50" x2="1245.60" y2="2129.50" stroke="#000" stroke-width="4.2"/>
<text transform="translate(1209.60,2137.50)" font-size="28.8" text-anchor="end">0.05</text>
<line x1="1225.50" y1="2238.70" x2="1245.60" y2="2238.70" stroke="#000" stroke-width="4.2"/>
<text transform="translate(1209.60,2246.70)" font-size="28.8" text-anchor="end">0.00</text>
<line x1="1277.30" y1="2239.00" x2="1277.30" y2="2256.20" stroke="#000" stroke-width="4.2"/>
<line x1="1353.27" y1="2239.00" x2="1353.27" y2="2256.20" stroke="#000" stroke-width="4.2"/>
<line x1="1429.24" y1="2239.00" x2="1429.24" y2="2256.20" stroke="#000" stroke-width="4.2"/>
<line x1="1505.21" y1="2239.00" x2="1505.21" y2="2256.20" stroke="#000" stroke-width="4.2"/>
<line x1="1581.18" y1="2239.00" x2="1581.18" y2="2256.20" stroke="#000" stroke-width="4.2"/>
<line x1="1657.15" y1="2239.00" x2="1657.15" y2="2256.20" stroke="#000" stroke-width="4.2"/>
<line x1="1733.12" y1="2239.00" x2="1733.12" y2="2256.20" stroke="#000" stroke-width="4.2"/>
<line x1="1809.09" y1="2239.00" x2="1809.09" y2="2256.20" stroke="#000" stroke-width="4.2"/>
<line x1="1885.06" y1="2239.00" x2="1885.06" y2="2256.20" stroke="#000" stroke-width="4.2"/>
<line x1="1961.03" y1="2239.00" x2="1961.03" y2="2256.20" stroke="#000" stroke-width="4.2"/>
<ellipse cx="1264.00" cy="2154.80" rx="7.50" ry="6.50" fill="none" stroke="#000" stroke-width="4.0"/>
<ellipse cx="1264.00" cy="2171.40" rx="7.50" ry="6.50" fill="none" stroke="#000" stroke-width="4.0"/>
<ellipse cx="1264.00" cy="2202.90" rx="7.50" ry="6.50" fill="none" stroke="#000" stroke-width="4.0"/>
<ellipse cx="1292.20" cy="2160.60" rx="7.50" ry="6.50" fill="none" stroke="#000" stroke-width="4.0"/>
<ellipse cx="1295.00" cy="2161.50" rx="7.50" ry="6.50" fill="none" stroke="#000" stroke-width="4.0"/>
<ellipse cx="1292.20" cy="2190.70" rx="7.50" ry="6.50" fill="none" stroke="#000" stroke-width="4.0"/>
<ellipse cx="1339.70" cy="2177.30" rx="7.50" ry="6.50" fill="none" stroke="#000" stroke-width="4.0"/>
<ellipse cx="1344.10" cy="2196.20" rx="7.50" ry="6.50" fill="none" stroke="#000" stroke-width="4.0"/>
<ellipse cx="1336.80" cy="2200.00" rx="7.50" ry="6.50" fill="none" stroke="#000" stroke-width="4.0"/>
<ellipse cx="1367.40" cy="2190.70" rx="7.50" ry="6.50" fill="none" stroke="#000" stroke-width="4.0"/>
<ellipse cx="1371.20" cy="2200.60" rx="7.50" ry="6.50" fill="none" stroke="#000" stroke-width="4.0"/>
<ellipse cx="1366.00" cy="2211.00" rx="7.50" ry="6.50" fill="none" stroke="#000" stroke-width="4.0"/>
<ellipse cx="1416.10" cy="2166.50" rx="7.50" ry="6.50" fill="none" stroke="#000" stroke-width="4.0"/>
<ellipse cx="1418.40" cy="2201.40" rx="7.50" ry="6.50" fill="none" stroke="#000" stroke-width="4.0"/>
<ellipse cx="1414.00" cy="2208.70" rx="7.50" ry="6.50" fill="none" stroke="#000" stroke-width="4.0"/>
<ellipse cx="1444.00" cy="2194.20" rx="7.50" ry="6.50" fill="none" stroke="#000" stroke-width="4.0"/>
<ellipse cx="1447.50" cy="2204.90" rx="7.50" ry="6.50" fill="none" stroke="#000" stroke-width="4.0"/>
<ellipse cx="1444.60" cy="2221.80" rx="7.50" ry="6.50" fill="none" stroke="#000" stroke-width="4.0"/>
<line x1="1485.67" y1="2184.60" x2="1496.67" y2="2184.60" stroke="#000" stroke-width="3.4"/>
<line x1="1485.67" y1="2188.00" x2="1496.67" y2="2188.00" stroke="#000" stroke-width="3.4"/>
<line x1="1491.17" y1="2184.00" x2="1491.17" y2="2190.50" stroke="#000" stroke-width="3.9"/>
<ellipse cx="1488.30" cy="2186.90" rx="7.50" ry="6.50" fill="none" stroke="#000" stroke-width="4.0"/>
<ellipse cx="1494.20" cy="2186.00" rx="7.50" ry="6.50" fill="none" stroke="#000" stroke-width="4.0"/>
<ellipse cx="1491.00" cy="2187.50" rx="7.50" ry="6.50" fill="none" stroke="#000" stroke-width="4.0"/>
<ellipse cx="1520.40" cy="2173.20" rx="7.50" ry="6.50" fill="none" stroke="#000" stroke-width="4.0"/>
<ellipse cx="1521.80" cy="2188.30" rx="7.50" ry="6.50" fill="none" stroke="#000" stroke-width="4.0"/>
<ellipse cx="1520.40" cy="2200.60" rx="7.50" ry="6.50" fill="none" stroke="#000" stroke-width="4.0"/>
<ellipse cx="1567.60" cy="2089.30" rx="7.50" ry="6.50" fill="none" stroke="#000" stroke-width="4.0"/>
<ellipse cx="1569.90" cy="2130.10" rx="7.50" ry="6.50" fill="none" stroke="#000" stroke-width="4.0"/>
<ellipse cx="1565.60" cy="2138.80" rx="7.50" ry="6.50" fill="none" stroke="#000" stroke-width="4.0"/>
<line x1="1591.50" y1="2126.60" x2="1602.50" y2="2126.60" stroke="#000" stroke-width="3.4"/>
<line x1="1591.50" y1="2130.00" x2="1602.50" y2="2130.00" stroke="#000" stroke-width="3.4"/>
<line x1="1597.00" y1="2122.20" x2="1597.00" y2="2136.60" stroke="#000" stroke-width="3.9"/>
<ellipse cx="1596.70" cy="2124.20" rx="7.50" ry="6.50" fill="none" stroke="#000" stroke-width="4.0"/>
<ellipse cx="1600.50" cy="2128.60" rx="7.50" ry="6.50" fill="none" stroke="#000" stroke-width="4.0"/>
<ellipse cx="1593.80" cy="2133.60" rx="7.50" ry="6.50" fill="none" stroke="#000" stroke-width="4.0"/>
<ellipse cx="1643.40" cy="2174.40" rx="7.50" ry="6.50" fill="none" stroke="#000" stroke-width="4.0"/>
<ellipse cx="1645.70" cy="2211.10" rx="7.50" ry="6.50" fill="none" stroke="#000" stroke-width="4.0"/>
<ellipse cx="1640.50" cy="2214.00" rx="7.50" ry="6.50" fill="none" stroke="#000" stroke-width="4.0"/>
<ellipse cx="1672.50" cy="2191.30" rx="7.50" ry="6.50" fill="none" stroke="#000" stroke-width="4.0"/>
<ellipse cx="1674.80" cy="2198.60" rx="7.50" ry="6.50" fill="none" stroke="#000" stroke-width="4.0"/>
<ellipse cx="1670.50" cy="2202.90" rx="7.50" ry="6.50" fill="none" stroke="#000" stroke-width="4.0"/>
<line x1="1714.50" y1="2193.30" x2="1725.50" y2="2193.30" stroke="#000" stroke-width="3.4"/>
<line x1="1714.50" y1="2196.70" x2="1725.50" y2="2196.70" stroke="#000" stroke-width="3.4"/>
<line x1="1720.00" y1="2192.80" x2="1720.00" y2="2199.20" stroke="#000" stroke-width="3.9"/>
<ellipse cx="1718.50" cy="2194.80" rx="7.50" ry="6.50" fill="none" stroke="#000" stroke-width="4.0"/>
<ellipse cx="1721.50" cy="2196.20" rx="7.50" ry="6.50" fill="none" stroke="#000" stroke-width="4.0"/>
<ellipse cx="1720.00" cy="2195.50" rx="7.50" ry="6.50" fill="none" stroke="#000" stroke-width="4.0"/>
<ellipse cx="1748.30" cy="2188.90" rx="7.50" ry="6.50" fill="none" stroke="#000" stroke-width="4.0"/>
<ellipse cx="1750.60" cy="2198.60" rx="7.50" ry="6.50" fill="none" stroke="#000" stroke-width="4.0"/>
<ellipse cx="1746.20" cy="2202.90" rx="7.50" ry="6.50" fill="none" stroke="#000" stroke-width="4.0"/>
<ellipse cx="1794.30" cy="2191.30" rx="7.50" ry="6.50" fill="none" stroke="#000" stroke-width="4.0"/>
<ellipse cx="1797.80" cy="2195.60" rx="7.50" ry="6.50" fill="none" stroke="#000" stroke-width="4.0"/>
<ellipse cx="1795.80" cy="2212.20" rx="7.50" ry="6.50" fill="none" stroke="#000" stroke-width="4.0"/>
<ellipse cx="1824.00" cy="2182.00" rx="7.50" ry="6.50" fill="none" stroke="#000" stroke-width="4.0"/>
<ellipse cx="1826.40" cy="2210.20" rx="7.50" ry="6.50" fill="none" stroke="#000" stroke-width="4.0"/>
<ellipse cx="1822.00" cy="2213.70" rx="7.50" ry="6.50" fill="none" stroke="#000" stroke-width="4.0"/>
<ellipse cx="1871.50" cy="2187.80" rx="7.50" ry="6.50" fill="none" stroke="#000" stroke-width="4.0"/>
<ellipse cx="1873.90" cy="2201.50" rx="7.50" ry="6.50" fill="none" stroke="#000" stroke-width="4.0"/>
<ellipse cx="1869.50" cy="2203.50" rx="7.50" ry="6.50" fill="none" stroke="#000" stroke-width="4.0"/>
<line x1="1894.87" y1="2189.37" x2="1905.87" y2="2189.37" stroke="#000" stroke-width="3.4"/>
<line x1="1894.87" y1="2192.77" x2="1905.87" y2="2192.77" stroke="#000" stroke-width="3.4"/>
<line x1="1900.37" y1="2187.80" x2="1900.37" y2="2197.20" stroke="#000" stroke-width="3.9"/>
<ellipse cx="1899.80" cy="2190.70" rx="7.50" ry="6.50" fill="none" stroke="#000" stroke-width="4.0"/>
<ellipse cx="1902.70" cy="2189.80" rx="7.50" ry="6.50" fill="none" stroke="#000" stroke-width="4.0"/>
<ellipse cx="1898.60" cy="2194.20" rx="7.50" ry="6.50" fill="none" stroke="#000" stroke-width="4.0"/>
<ellipse cx="1946.40" cy="2160.70" rx="7.50" ry="6.50" fill="none" stroke="#000" stroke-width="4.0"/>
<ellipse cx="1950.20" cy="2165.00" rx="7.50" ry="6.50" fill="none" stroke="#000" stroke-width="4.0"/>
<ellipse cx="1945.80" cy="2172.30" rx="7.50" ry="6.50" fill="none" stroke="#000" stroke-width="4.0"/>
<line x1="1970.90" y1="2168.03" x2="1981.90" y2="2168.03" stroke="#000" stroke-width="3.4"/>
<line x1="1970.90" y1="2171.43" x2="1981.90" y2="2171.43" stroke="#000" stroke-width="3.4"/>
<line x1="1976.40" y1="2165.40" x2="1976.40" y2="2176.80" stroke="#000" stroke-width="3.9"/>
<ellipse cx="1976.40" cy="2167.40" rx="7.50" ry="6.50" fill="none" stroke="#000" stroke-width="4.0"/>
<ellipse cx="1978.40" cy="2169.50" rx="7.50" ry="6.50" fill="none" stroke="#000" stroke-width="4.0"/>
<ellipse cx="1974.40" cy="2173.80" rx="7.50" ry="6.50" fill="none" stroke="#000" stroke-width="4.0"/>
<rect x="1780.40" y="1787.40" width="45.15" height="20.00" fill="#ff0000" stroke="#231f20" stroke-width="3"/>
<rect x="1780.40" y="1830.50" width="45.15" height="20.60" fill="#a3a2a7" stroke="#231f20" stroke-width="3"/>
<text transform="translate(1840.90,1807.50)" font-size="28.8">ABE-treated</text>
<text transform="translate(1840.90,1851.20)" font-size="28.8">Untreated</text>
<text transform="translate(1102.20,2020.80) rotate(-90)" font-size="28.8" text-anchor="middle">Total sequencing reads with</text>
<text transform="translate(1137.20,2022.00) rotate(-90)" font-size="28.8" text-anchor="middle">A-to-G conversion at A<tspan font-size="18.5">6</tspan> (%)</text>
<text transform="translate(1295.20,2281.80) rotate(-34)" font-size="28.6" text-anchor="end">OT1</text>
<text transform="translate(1371.17,2281.80) rotate(-34)" font-size="28.6" text-anchor="end">OT2</text>
<text transform="translate(1447.14,2281.80) rotate(-34)" font-size="28.6" text-anchor="end">OT3</text>
<text transform="translate(1523.11,2281.80) rotate(-34)" font-size="28.6" text-anchor="end">OT4</text>
<text transform="translate(1599.08,2281.80) rotate(-34)" font-size="28.6" text-anchor="end">OT5</text>
<text transform="translate(1675.05,2281.80) rotate(-34)" font-size="28.6" text-anchor="end">OT6</text>
<text transform="translate(1751.02,2281.80) rotate(-34)" font-size="28.6" text-anchor="end">OT7</text>
<text transform="translate(1826.99,2281.80) rotate(-34)" font-size="28.6" text-anchor="end">OT8</text>
<text transform="translate(1902.96,2281.80) rotate(-34)" font-size="28.6" text-anchor="end">OT9</text>
<text transform="translate(1978.93,2281.80) rotate(-34)" font-size="28.6" text-anchor="end">OT10</text>
</svg>
</body></html>
